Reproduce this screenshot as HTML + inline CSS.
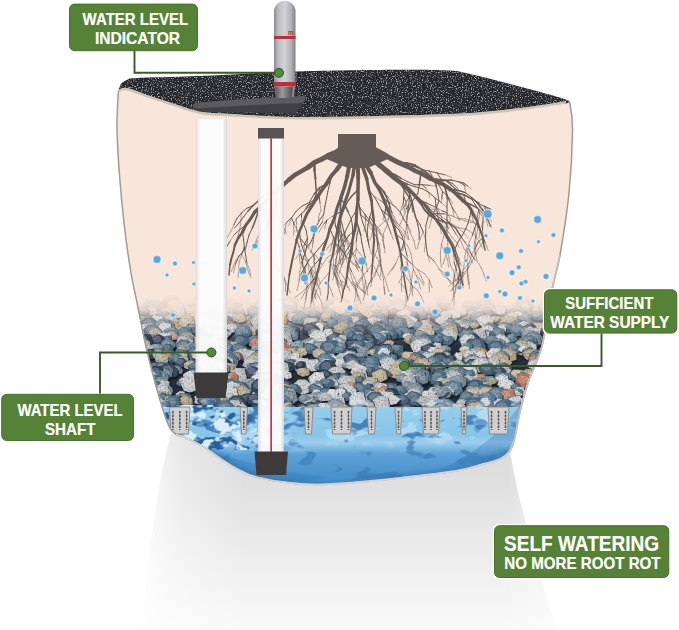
<!DOCTYPE html>
<html><head><meta charset="utf-8"><style>
html,body{margin:0;padding:0;background:#fff;}
body{width:679px;height:630px;overflow:hidden;position:relative;}
svg{position:absolute;left:0;top:0;display:block;}
text{font-family:"Liberation Sans",sans-serif;font-weight:bold;}
</style></head><body>
<svg width="679" height="630" viewBox="0 0 679 630"><defs>
<linearGradient id="shadow" x1="0" y1="0" x2="0" y2="1">
  <stop offset="0" stop-color="#d8d8d8"/>
  <stop offset="0.35" stop-color="#e3e3e3"/>
  <stop offset="1" stop-color="#fafafa"/>
</linearGradient>
<linearGradient id="shadowL" x1="0" y1="0" x2="1" y2="0">
  <stop offset="0" stop-color="#ffffff" stop-opacity="0.85"/>
  <stop offset="0.1" stop-color="#ffffff" stop-opacity="0.35"/>
  <stop offset="0.25" stop-color="#ffffff" stop-opacity="0"/>
  <stop offset="0.88" stop-color="#ffffff" stop-opacity="0"/>
  <stop offset="1" stop-color="#ffffff" stop-opacity="0.5"/>
</linearGradient>
<linearGradient id="water" x1="0" y1="0" x2="0" y2="1">
  <stop offset="0" stop-color="#96cdec"/>
  <stop offset="0.33" stop-color="#88c5e9"/>
  <stop offset="0.42" stop-color="#9ccfee"/>
  <stop offset="0.55" stop-color="#5ea3d6"/>
  <stop offset="0.8" stop-color="#4a92cc"/>
  <stop offset="1" stop-color="#5a9fd3"/>
</linearGradient>
<linearGradient id="gbase" x1="0" y1="0" x2="0" y2="1">
  <stop offset="0" stop-color="#f9e6da"/>
  <stop offset="0.2" stop-color="#8a8f95"/>
  <stop offset="0.4" stop-color="#26303a"/>
  <stop offset="1" stop-color="#26303a"/>
</linearGradient>
<linearGradient id="rootfade" x1="0" y1="0" x2="0" y2="1">
  <stop offset="0" stop-color="#f9e6da" stop-opacity="0"/>
  <stop offset="0.6" stop-color="#f3e4da" stop-opacity="0.5"/>
  <stop offset="1" stop-color="#f0e4dc" stop-opacity="0"/>
</linearGradient>
<linearGradient id="gravfade" x1="0" y1="0" x2="0" y2="1">
  <stop offset="0" stop-color="#f9e6da" stop-opacity="1"/>
  <stop offset="0.25" stop-color="#f9e6da" stop-opacity="0.85"/>
  <stop offset="0.6" stop-color="#f9e6da" stop-opacity="0.35"/>
  <stop offset="1" stop-color="#f9e6da" stop-opacity="0"/>
</linearGradient>
<linearGradient id="tube" x1="0" y1="0" x2="1" y2="0">
  <stop offset="0" stop-color="#808087"/>
  <stop offset="0.3" stop-color="#cfcfd4"/>
  <stop offset="0.6" stop-color="#b0b0b7"/>
  <stop offset="1" stop-color="#727279"/>
</linearGradient>
<linearGradient id="shaft" x1="0" y1="0" x2="1" y2="0">
  <stop offset="0" stop-color="#e0dcda"/>
  <stop offset="0.14" stop-color="#fcfcfc"/>
  <stop offset="0.86" stop-color="#fcfcfc"/>
  <stop offset="1" stop-color="#dad6d4"/>
</linearGradient>
<clipPath id="potclip"><path d="M118.5,90.0 C118.2,96.3 116.8,113.8 117.0,128.0 C117.2,142.2 118.3,159.2 119.5,175.0 C120.7,190.8 122.2,207.1 124.0,223.0 C125.8,238.9 128.3,256.8 130.6,270.5 C132.8,284.2 135.2,293.4 137.5,305.0 C139.8,316.6 141.9,328.3 144.5,340.0 C147.1,351.7 150.4,365.0 153.0,375.0 C155.6,385.0 158.0,393.2 160.0,400.0 C162.0,406.8 163.3,411.3 165.0,416.0 C166.7,420.7 168.2,424.9 170.0,428.0 C171.8,431.1 173.3,432.8 176.0,434.5 C178.7,436.2 181.5,436.0 186.0,438.0 C190.5,440.0 197.2,443.0 203.0,446.5 C208.8,450.0 215.2,455.2 221.0,459.0 C226.8,462.8 232.2,466.5 238.0,469.5 C243.8,472.5 247.3,474.8 256.0,477.0 C264.7,479.2 279.0,481.8 290.0,483.0 C301.0,484.2 310.3,484.7 322.0,484.5 C333.7,484.3 347.0,483.1 360.0,482.0 C373.0,480.9 384.0,479.8 400.0,478.0 C416.0,476.2 443.0,473.1 456.0,471.0 C469.0,468.9 470.7,467.5 478.0,465.5 C485.3,463.5 494.8,461.2 500.0,459.0 C505.2,456.8 506.7,455.0 509.0,452.0 C511.3,449.0 512.0,448.5 514.0,441.0 C516.0,433.5 518.5,417.2 521.0,407.0 C523.5,396.8 525.5,390.2 529.0,380.0 C532.5,369.8 538.2,361.0 542.0,346.0 C545.8,331.0 549.0,305.2 552.0,290.0 C555.0,274.8 557.2,271.2 560.0,255.0 C562.8,238.8 566.9,213.7 569.0,193.0 C571.1,172.3 572.3,145.8 572.5,131.0 C572.7,116.2 571.1,109.0 570.0,104.0 C568.9,99.0 566.7,101.5 566.0,101.0 L566.0,101.0 C558.3,102.2 536.0,106.0 520.0,108.0 C504.0,110.0 490.0,111.8 470.0,113.0 C450.0,114.2 428.3,114.8 400.0,115.5 C371.7,116.2 328.3,117.2 300.0,117.0 C271.7,116.8 246.7,114.9 230.0,114.0 C213.3,113.1 209.0,113.1 200.0,111.5 C191.0,109.9 184.3,107.0 176.0,104.4 C167.7,101.8 158.2,98.7 150.0,96.0 C141.8,93.3 132.2,89.0 127.0,88.0 C121.8,87.0 119.9,89.7 118.5,90.0 Z"/></clipPath><g id="s0"><polygon points="-4.0,3.4 -4.5,1.5 -1.6,-1.2 3.3,-1.4 6.8,0.3 5.3,3.4 0.5,5.6" fill="#101722" opacity=".58"/><polygon points="-4.5,1.6 -4.9,-0.1 -2.2,-2.6 2.3,-2.7 5.6,-1.2 4.2,1.7 -0.3,3.7"/><polygon points="-3.9,-0.5 -4.1,-1.5 -2.5,-2.8 0.2,-2.9 2.1,-2.1 1.3,-0.5 -1.4,0.6" fill="#fff" opacity=".22"/></g><g id="s1"><polygon points="-3.4,5.2 -5.4,1.1 -4.1,-1.5 -0.4,-4.0 4.5,-3.2 5.6,0.3 4.8,4.7 1.2,6.0" fill="#101722" opacity=".58"/><polygon points="-3.9,3.3 -5.7,-0.5 -4.5,-2.8 -1.1,-5.1 3.4,-4.4 4.4,-1.1 3.7,2.8 0.4,4.0"/><polygon points="-3.5,0.4 -4.6,-1.7 -3.9,-2.9 -1.9,-4.2 0.8,-3.8 1.5,-2.0 1.0,0.1 -1.0,0.8" fill="#fff" opacity=".22"/></g><g id="s2"><polygon points="-1.3,-3.7 4.7,-2.6 6.0,0.6 4.5,6.3 -1.9,6.1 -5.1,2.7" fill="#101722" opacity=".58"/><polygon points="-1.9,-4.8 3.6,-3.8 4.8,-0.9 3.4,4.3 -2.5,4.1 -5.4,1.0"/><polygon points="-2.4,-4.1 0.9,-3.5 1.7,-1.9 0.8,1.0 -2.7,0.8 -4.5,-0.9" fill="#fff" opacity=".22"/></g><g id="s3"><polygon points="-4.8,0.1 -1.9,-3.8 3.4,-4.0 7.6,-0.4 6.0,4.3 0.7,6.8 -2.7,5.3 -6.6,2.0" fill="#101722" opacity=".58"/><polygon points="-5.2,-1.4 -2.5,-4.9 2.4,-5.1 6.3,-1.8 4.8,2.5 -0.0,4.7 -3.2,3.3 -6.9,0.3"/><polygon points="-4.3,-2.2 -2.7,-4.1 0.2,-4.2 2.6,-2.4 1.7,-0.0 -1.2,1.2 -3.1,0.4 -5.3,-1.2" fill="#fff" opacity=".22"/></g><g id="s4"><polygon points="4.0,-3.3 6.6,2.4 5.0,5.1 -2.3,6.8 -5.7,2.1 -2.7,-2.5" fill="#101722" opacity=".58"/><polygon points="3.0,-4.4 5.3,0.7 3.9,3.2 -2.8,4.7 -6.0,0.4 -3.2,-3.8"/><polygon points="0.6,-3.8 2.0,-1.0 1.1,0.3 -2.9,1.2 -4.8,-1.2 -3.1,-3.5" fill="#fff" opacity=".22"/></g><g id="s5"><polygon points="1.7,5.7 -5.6,4.4 -6.3,1.2 -1.9,-2.7 3.8,-2.6 6.4,-0.1 6.0,4.2" fill="#101722" opacity=".58"/><polygon points="0.8,3.7 -5.9,2.6 -6.6,-0.4 -2.5,-4.0 2.8,-3.8 5.2,-1.5 4.8,2.4"/><polygon points="-0.7,0.6 -4.8,0.0 -5.1,-1.6 -2.7,-3.6 0.5,-3.5 1.9,-2.2 1.7,-0.1" fill="#fff" opacity=".22"/></g><g id="s6"><polygon points="2.0,6.9 -5.2,4.9 -6.6,-0.9 -0.7,-4.7 7.5,-0.8 8.2,4.7" fill="#101722" opacity=".58"/><polygon points="1.1,4.8 -5.5,3.0 -6.8,-2.3 -1.4,-5.7 6.2,-2.2 6.9,2.8"/><polygon points="-0.5,1.2 -4.5,0.2 -5.3,-2.6 -2.0,-4.5 2.5,-2.6 2.9,0.2" fill="#fff" opacity=".22"/></g><g id="s7"><polygon points="7.7,-1.5 7.4,3.7 6.0,5.9 -0.0,7.1 -6.3,4.2 -6.7,0.9 -0.9,-2.8 3.5,-3.9" fill="#101722" opacity=".58"/><polygon points="6.4,-2.8 6.2,1.9 4.9,3.9 -0.8,5.0 -6.6,2.3 -6.9,-0.7 -1.6,-4.0 2.5,-5.0"/><polygon points="2.6,-2.9 2.5,-0.4 1.7,0.7 -1.7,1.4 -5.2,-0.1 -5.4,-1.8 -2.2,-3.6 0.3,-4.1" fill="#fff" opacity=".22"/></g><g id="s8"><polygon points="8.3,4.0 6.0,5.8 0.3,6.8 -5.1,4.1 -7.0,-0.6 -2.6,-2.5 3.6,-3.1 7.2,-0.2" fill="#101722" opacity=".58"/><polygon points="7.0,2.2 4.8,3.8 -0.5,4.7 -5.5,2.3 -7.3,-2.0 -3.2,-3.7 2.6,-4.3 6.0,-1.7"/><polygon points="3.0,-0.2 1.7,0.7 -1.5,1.2 -4.5,-0.2 -5.6,-2.5 -3.1,-3.4 0.4,-3.8 2.4,-2.3" fill="#fff" opacity=".22"/></g><g id="s9"><polygon points="8.4,1.5 7.4,5.4 -3.0,6.3 -6.7,4.6 -6.8,-0.2 -0.1,-3.8 4.4,-2.6" fill="#101722" opacity=".58"/><polygon points="7.0,-0.1 6.2,3.5 -3.5,4.2 -6.9,2.7 -7.1,-1.6 -0.8,-4.9 3.4,-3.8"/><polygon points="3.0,-1.5 2.5,0.5 -3.3,0.9 -5.4,0.1 -5.4,-2.3 -1.7,-4.1 0.8,-3.5" fill="#fff" opacity=".22"/></g><g id="s10"><polygon points="3.3,7.0 -3.1,6.3 -7.4,5.1 -6.8,-0.9 -4.1,-3.4 5.2,-2.6 7.9,-1.6 7.3,4.0" fill="#101722" opacity=".58"/><polygon points="2.3,4.9 -3.6,4.3 -7.6,3.2 -7.1,-2.3 -4.5,-4.6 4.1,-3.9 6.5,-2.9 6.0,2.2"/><polygon points="0.2,1.3 -3.4,1.0 -5.8,0.4 -5.4,-2.7 -3.9,-3.9 1.3,-3.5 2.7,-3.0 2.4,-0.2" fill="#fff" opacity=".22"/></g><g id="s11"><polygon points="-8.4,-0.5 1.7,-5.1 7.0,-2.4 9.0,5.7 1.8,9.7 -6.9,6.4" fill="#101722" opacity=".58"/><polygon points="-8.5,-1.9 0.8,-6.1 5.7,-3.6 7.6,3.8 1.0,7.3 -7.1,4.3"/><polygon points="-6.3,-2.5 -0.7,-4.8 2.2,-3.4 3.4,0.7 -0.6,2.6 -5.5,1.0" fill="#fff" opacity=".22"/></g><g id="s12"><polygon points="6.2,6.1 -2.4,7.7 -8.5,4.9 -6.0,-2.1 -2.2,-5.4 5.5,-3.5 11.1,1.2" fill="#101722" opacity=".58"/><polygon points="5.0,4.1 -3.0,5.6 -8.6,3.0 -6.3,-3.4 -2.7,-6.3 4.3,-4.6 9.5,-0.4"/><polygon points="1.8,0.8 -3.0,1.7 -6.3,0.3 -5.0,-3.3 -2.8,-4.9 1.4,-3.9 4.5,-1.6" fill="#fff" opacity=".22"/></g><g id="s13"><polygon points="7.6,-5.5 10.5,5.2 3.2,10.8 -7.3,7.8 -7.5,-0.5 -1.6,-6.3" fill="#101722" opacity=".58"/><polygon points="6.3,-6.5 9.0,3.2 2.2,8.3 -7.5,5.6 -7.7,-1.9 -2.2,-7.2"/><polygon points="2.6,-5.0 4.2,0.4 0.1,3.2 -5.7,1.7 -5.8,-2.5 -2.5,-5.4" fill="#fff" opacity=".22"/></g><g id="s14"><polygon points="8.5,7.4 -1.0,8.7 -5.4,5.6 -8.9,-0.6 -4.1,-3.9 4.6,-5.1 10.2,0.7" fill="#101722" opacity=".58"/><polygon points="7.1,5.3 -1.7,6.5 -5.8,3.6 -8.9,-2.0 -4.5,-5.0 3.5,-6.1 8.7,-0.8"/><polygon points="3.1,1.5 -2.2,2.2 -4.7,0.6 -6.6,-2.5 -3.9,-4.2 0.9,-4.7 4.0,-1.8" fill="#fff" opacity=".22"/></g><g id="s15"><polygon points="0.8,9.9 -6.2,7.5 -9.7,-1.4 -4.1,-6.6 3.7,-6.5 9.9,-0.8 9.8,6.8" fill="#101722" opacity=".58"/><polygon points="0.0,7.5 -6.5,5.4 -9.8,-2.7 -4.5,-7.5 2.7,-7.4 8.5,-2.2 8.4,4.7"/><polygon points="-1.2,2.7 -5.1,1.6 -7.1,-2.9 -3.9,-5.5 0.4,-5.5 3.9,-2.6 3.8,1.2" fill="#fff" opacity=".22"/></g><filter id="gtex" color-interpolation-filters="sRGB" filterUnits="userSpaceOnUse" x="100" y="306" width="490" height="112"><feTurbulence type="fractalNoise" baseFrequency="0.6" numOctaves="1" seed="8"/><feColorMatrix type="matrix" values="0 0 0 0 0.1  0 0 0 0 0.12  0 0 0 0 0.15  3 0 0 0 -1.3"/></filter><filter id="marbD" color-interpolation-filters="sRGB" filterUnits="userSpaceOnUse" x="100" y="400" width="480" height="100">
<feTurbulence type="fractalNoise" baseFrequency="0.035 0.06" numOctaves="3" seed="11"/>
<feColorMatrix type="matrix" values="0 0 0 0 0.19  0 0 0 0 0.43  0 0 0 0 0.68  14 0 0 0 -8.6"/>
</filter>
<filter id="marbL" color-interpolation-filters="sRGB" filterUnits="userSpaceOnUse" x="100" y="400" width="480" height="100">
<feTurbulence type="fractalNoise" baseFrequency="0.04 0.07" numOctaves="3" seed="4"/>
<feColorMatrix type="matrix" values="0 0 0 0 0.86  0 0 0 0 0.94  0 0 0 0 0.99  14 0 0 0 -8.0"/>
</filter>
<linearGradient id="wmask" x1="0" y1="0" x2="0" y2="1">
  <stop offset="0" stop-color="#fff"/>
  <stop offset="0.35" stop-color="#fff"/>
  <stop offset="0.55" stop-color="#000"/>
</linearGradient>
<mask id="wm" maskUnits="userSpaceOnUse" x="100" y="400" width="480" height="100"><rect x="100" y="400" width="480" height="100" fill="url(#wmask)"/></mask>
<linearGradient id="water2" x1="0" y1="0" x2="1" y2="0.3">
  <stop offset="0" stop-color="#3f86c2" stop-opacity="0.9"/>
  <stop offset="0.35" stop-color="#3f86c2" stop-opacity="0.2"/>
  <stop offset="1" stop-color="#3f86c2" stop-opacity="0"/>
</linearGradient>
<filter id="bl3" x="-20%" y="-50%" width="140%" height="200%"><feGaussianBlur stdDeviation="2.5"/></filter><filter id="marbD2" color-interpolation-filters="sRGB" filterUnits="userSpaceOnUse" x="150" y="405" width="150" height="45">
<feTurbulence type="fractalNoise" baseFrequency="0.06 0.08" numOctaves="3" seed="21"/>
<feColorMatrix type="matrix" values="0 0 0 0 0.16  0 0 0 0 0.37  0 0 0 0 0.60  10 0 0 0 -5.0"/>
</filter>
<linearGradient id="lmask" x1="0" y1="0" x2="1" y2="0">
  <stop offset="0" stop-color="#fff"/><stop offset="0.6" stop-color="#fff"/><stop offset="1" stop-color="#000"/>
</linearGradient>
<mask id="lm" maskUnits="userSpaceOnUse" x="150" y="405" width="150" height="45"><rect x="150" y="405" width="150" height="45" fill="url(#lmask)"/></mask><filter id="marbL2" color-interpolation-filters="sRGB" filterUnits="userSpaceOnUse" x="150" y="405" width="150" height="45">
<feTurbulence type="fractalNoise" baseFrequency="0.07 0.09" numOctaves="3" seed="33"/>
<feColorMatrix type="matrix" values="0 0 0 0 0.85  0 0 0 0 0.93  0 0 0 0 0.98  10 0 0 0 -5.3"/>
</filter><clipPath id="rimclip"><path d="M118.5,91.0 C118.9,89.8 119.6,85.8 121.0,84.0 C122.4,82.2 124.3,81.0 127.0,80.0 C129.7,79.0 124.8,78.7 137.0,78.0 C149.2,77.3 173.5,77.1 200.0,76.0 C226.5,74.9 263.3,72.5 296.0,71.5 C328.7,70.5 370.7,70.0 396.0,69.8 C421.3,69.6 436.0,69.9 448.0,70.5 C460.0,71.1 457.3,71.2 468.0,73.5 C478.7,75.8 496.3,80.4 512.0,84.5 C527.7,88.6 552.5,95.2 562.0,98.2 C571.5,101.2 567.8,101.8 569.0,102.5 L566,103.5 L520.0,108.0 C511.7,108.8 490.0,111.8 470.0,113.0 C450.0,114.2 428.3,114.8 400.0,115.5 C371.7,116.2 328.3,117.2 300.0,117.0 C271.7,116.8 246.7,114.9 230.0,114.0 C213.3,113.1 209.0,113.1 200.0,111.5 C191.0,109.9 184.3,107.0 176.0,104.4 C167.7,101.8 158.2,98.7 150.0,96.0 C141.8,93.3 132.2,89.0 127.0,88.0 C121.8,87.0 119.9,89.7 118.5,90.0 Z"/></clipPath><filter id="speck" color-interpolation-filters="sRGB" x="100" y="55" width="490" height="75" filterUnits="userSpaceOnUse">
<feTurbulence type="fractalNoise" baseFrequency="0.8" numOctaves="2" seed="3" result="n"/>
<feColorMatrix in="n" type="matrix" values="0 0 0 0 0.66  0 0 0 0 0.66  0 0 0 0 0.69  4.4 0 0 0 -2.3"/>
</filter>
<linearGradient id="tube2" x1="0" y1="0" x2="1" y2="0">
  <stop offset="0" stop-color="#8a8a91"/>
  <stop offset="0.2" stop-color="#bdbdc2"/>
  <stop offset="0.5" stop-color="#d2d2d6"/>
  <stop offset="0.8" stop-color="#b0b0b6"/>
  <stop offset="1" stop-color="#808087"/>
</linearGradient>
<linearGradient id="tube3" x1="0" y1="0" x2="1" y2="0">
  <stop offset="0" stop-color="#55555b"/>
  <stop offset="0.4" stop-color="#9a9aa0"/>
  <stop offset="1" stop-color="#4a4a50"/>
</linearGradient></defs><path d="M171,434 L186,438 L256,477 L322,484.5 L478,465.5 L509,443 C516,500 540,570 556,630 L143,630 C148,560 158,480 171,434 Z" fill="url(#shadow)"/><path d="M171,434 L186,438 L256,477 L322,484.5 L478,465.5 L509,443 C516,500 540,570 556,630 L143,630 C148,560 158,480 171,434 Z" fill="url(#shadowL)"/><path d="M118.5,90.0 C118.2,96.3 116.8,113.8 117.0,128.0 C117.2,142.2 118.3,159.2 119.5,175.0 C120.7,190.8 122.2,207.1 124.0,223.0 C125.8,238.9 128.3,256.8 130.6,270.5 C132.8,284.2 135.2,293.4 137.5,305.0 C139.8,316.6 141.9,328.3 144.5,340.0 C147.1,351.7 150.4,365.0 153.0,375.0 C155.6,385.0 158.0,393.2 160.0,400.0 C162.0,406.8 163.3,411.3 165.0,416.0 C166.7,420.7 168.2,424.9 170.0,428.0 C171.8,431.1 173.3,432.8 176.0,434.5 C178.7,436.2 181.5,436.0 186.0,438.0 C190.5,440.0 197.2,443.0 203.0,446.5 C208.8,450.0 215.2,455.2 221.0,459.0 C226.8,462.8 232.2,466.5 238.0,469.5 C243.8,472.5 247.3,474.8 256.0,477.0 C264.7,479.2 279.0,481.8 290.0,483.0 C301.0,484.2 310.3,484.7 322.0,484.5 C333.7,484.3 347.0,483.1 360.0,482.0 C373.0,480.9 384.0,479.8 400.0,478.0 C416.0,476.2 443.0,473.1 456.0,471.0 C469.0,468.9 470.7,467.5 478.0,465.5 C485.3,463.5 494.8,461.2 500.0,459.0 C505.2,456.8 506.7,455.0 509.0,452.0 C511.3,449.0 512.0,448.5 514.0,441.0 C516.0,433.5 518.5,417.2 521.0,407.0 C523.5,396.8 525.5,390.2 529.0,380.0 C532.5,369.8 538.2,361.0 542.0,346.0 C545.8,331.0 549.0,305.2 552.0,290.0 C555.0,274.8 557.2,271.2 560.0,255.0 C562.8,238.8 566.9,213.7 569.0,193.0 C571.1,172.3 572.3,145.8 572.5,131.0 C572.7,116.2 571.1,109.0 570.0,104.0 C568.9,99.0 566.7,101.5 566.0,101.0 L566.0,101.0 C558.3,102.2 536.0,106.0 520.0,108.0 C504.0,110.0 490.0,111.8 470.0,113.0 C450.0,114.2 428.3,114.8 400.0,115.5 C371.7,116.2 328.3,117.2 300.0,117.0 C271.7,116.8 246.7,114.9 230.0,114.0 C213.3,113.1 209.0,113.1 200.0,111.5 C191.0,109.9 184.3,107.0 176.0,104.4 C167.7,101.8 158.2,98.7 150.0,96.0 C141.8,93.3 132.2,89.0 127.0,88.0 C121.8,87.0 119.9,89.7 118.5,90.0 Z" fill="#f9e6da"/><g clip-path="url(#potclip)"><path d="M338,134 L376,134 L376,147 C378,152 383,155 390,158 L368,168 L348,168 L324,158 C331,155 336,152 338,147 Z" fill="#655c57"/><rect x="100" y="300" width="480" height="115" fill="url(#gbase)"/><use href="#s7" x="286" y="300" fill="#47657b"/><use href="#s12" x="332" y="300" fill="#516f85"/><use href="#s11" x="282" y="300" fill="#778b95"/><use href="#s10" x="262" y="300" fill="#cbcdcf"/><use href="#s2" x="209" y="300" fill="#67859b"/><use href="#s11" x="366" y="300" fill="#c0c2c4"/><use href="#s6" x="205" y="300" fill="#b4b6b8"/><use href="#s1" x="191" y="301" fill="#c1c3c5"/><use href="#s5" x="396" y="301" fill="#648298"/><use href="#s4" x="342" y="301" fill="#5b798f"/><use href="#s6" x="442" y="301" fill="#8498a2"/><use href="#s5" x="214" y="301" fill="#dcdee0"/><use href="#s6" x="113" y="301" fill="#bb7d5f"/><use href="#s1" x="576" y="301" fill="#66849a"/><use href="#s10" x="288" y="301" fill="#617f95"/><use href="#s5" x="575" y="301" fill="#c2b496"/><use href="#s11" x="267" y="301" fill="#ccced0"/><use href="#s6" x="295" y="301" fill="#3d4d61"/><use href="#s14" x="383" y="301" fill="#beb092"/><use href="#s8" x="572" y="302" fill="#3d4d61"/><use href="#s15" x="254" y="302" fill="#c6b89a"/><use href="#s4" x="221" y="302" fill="#748892"/><use href="#s12" x="395" y="302" fill="#b9bbbd"/><use href="#s13" x="171" y="302" fill="#b7b9bb"/><use href="#s1" x="281" y="302" fill="#728690"/><use href="#s4" x="360" y="302" fill="#7f939d"/><use href="#s13" x="170" y="302" fill="#3c4c60"/><use href="#s13" x="213" y="303" fill="#617f95"/><use href="#s12" x="228" y="303" fill="#baac8e"/><use href="#s1" x="578" y="303" fill="#344458"/><use href="#s4" x="228" y="303" fill="#748892"/><use href="#s6" x="277" y="303" fill="#37475b"/><use href="#s11" x="578" y="303" fill="#b1a385"/><use href="#s5" x="238" y="303" fill="#bbad8f"/><use href="#s13" x="524" y="303" fill="#778b95"/><use href="#s3" x="149" y="304" fill="#66849a"/><use href="#s13" x="483" y="304" fill="#638197"/><use href="#s9" x="279" y="304" fill="#baac8e"/><use href="#s11" x="398" y="304" fill="#67859b"/><use href="#s13" x="305" y="304" fill="#c4b698"/><use href="#s3" x="448" y="304" fill="#c6c8ca"/><use href="#s5" x="306" y="304" fill="#caccce"/><use href="#s10" x="175" y="304" fill="#c5b799"/><use href="#s7" x="261" y="304" fill="#527086"/><use href="#s4" x="345" y="304" fill="#3a4a5e"/><use href="#s8" x="340" y="304" fill="#c7b99b"/><use href="#s15" x="287" y="304" fill="#48667c"/><use href="#s14" x="202" y="304" fill="#dadcde"/><use href="#s15" x="565" y="305" fill="#bbad8f"/><use href="#s3" x="468" y="305" fill="#798d97"/><use href="#s12" x="270" y="305" fill="#b2a486"/><use href="#s9" x="328" y="305" fill="#37475b"/><use href="#s8" x="506" y="305" fill="#d4d6d8"/><use href="#s2" x="476" y="306" fill="#4c6a80"/><use href="#s7" x="343" y="306" fill="#c0b294"/><use href="#s5" x="521" y="306" fill="#7c909a"/><use href="#s4" x="549" y="306" fill="#2c3c50"/><use href="#s9" x="152" y="306" fill="#5b798f"/><use href="#s10" x="238" y="307" fill="#c3b597"/><use href="#s4" x="261" y="307" fill="#cfd1d3"/><use href="#s8" x="349" y="307" fill="#bfb193"/><use href="#s13" x="523" y="307" fill="#557389"/><use href="#s8" x="577" y="307" fill="#c6c8ca"/><use href="#s6" x="237" y="307" fill="#48667c"/><use href="#s10" x="445" y="307" fill="#304054"/><use href="#s15" x="156" y="307" fill="#4d6b81"/><use href="#s6" x="548" y="307" fill="#869aa4"/><use href="#s9" x="574" y="308" fill="#d4d6d8"/><use href="#s7" x="402" y="308" fill="#47657b"/><use href="#s1" x="128" y="308" fill="#4c6a80"/><use href="#s15" x="420" y="308" fill="#d6d8da"/><use href="#s15" x="287" y="308" fill="#d4d6d8"/><use href="#s1" x="575" y="308" fill="#cdcfd1"/><use href="#s1" x="525" y="308" fill="#d4d6d8"/><use href="#s11" x="337" y="308" fill="#d9dbdd"/><use href="#s12" x="109" y="308" fill="#4f6d83"/><use href="#s6" x="544" y="308" fill="#6f838d"/><use href="#s5" x="139" y="308" fill="#bcbec0"/><use href="#s0" x="278" y="309" fill="#7e929c"/><use href="#s7" x="207" y="309" fill="#bec0c2"/><use href="#s3" x="500" y="309" fill="#c3b597"/><use href="#s13" x="279" y="309" fill="#8397a1"/><use href="#s13" x="176" y="309" fill="#b4b6b8"/><use href="#s1" x="320" y="309" fill="#7d919b"/><use href="#s2" x="418" y="309" fill="#628096"/><use href="#s2" x="518" y="309" fill="#5d7b91"/><use href="#s7" x="341" y="309" fill="#d1d3d5"/><use href="#s5" x="213" y="309" fill="#617f95"/><use href="#s2" x="565" y="310" fill="#d2d4d6"/><use href="#s9" x="561" y="310" fill="#c2b496"/><use href="#s12" x="226" y="310" fill="#b6b8ba"/><use href="#s7" x="243" y="310" fill="#d4d6d8"/><use href="#s3" x="253" y="310" fill="#47657b"/><use href="#s0" x="131" y="310" fill="#788c96"/><use href="#s14" x="228" y="310" fill="#c3b597"/><use href="#s13" x="487" y="310" fill="#778b95"/><use href="#s6" x="454" y="310" fill="#c1b395"/><use href="#s7" x="569" y="310" fill="#446278"/><use href="#s4" x="152" y="311" fill="#babcbe"/><use href="#s2" x="109" y="311" fill="#527086"/><use href="#s0" x="114" y="311" fill="#5e7c92"/><use href="#s3" x="121" y="311" fill="#d4d6d8"/><use href="#s5" x="398" y="311" fill="#d1d3d5"/><use href="#s14" x="417" y="311" fill="#bbbdbf"/><use href="#s2" x="485" y="311" fill="#869aa4"/><use href="#s11" x="178" y="311" fill="#caccce"/><use href="#s5" x="144" y="311" fill="#49677d"/><use href="#s6" x="460" y="311" fill="#d1d3d5"/><use href="#s5" x="500" y="311" fill="#d2d4d6"/><use href="#s7" x="396" y="311" fill="#648298"/><use href="#s15" x="400" y="312" fill="#c7c9cb"/><use href="#s12" x="393" y="312" fill="#ced0d2"/><use href="#s13" x="289" y="312" fill="#628096"/><use href="#s15" x="363" y="312" fill="#bbad8f"/><use href="#s11" x="562" y="312" fill="#324256"/><use href="#s9" x="268" y="312" fill="#66849a"/><use href="#s2" x="231" y="312" fill="#748892"/><use href="#s4" x="385" y="312" fill="#5a788e"/><use href="#s4" x="552" y="312" fill="#70848e"/><use href="#s10" x="352" y="312" fill="#557389"/><use href="#s6" x="487" y="312" fill="#57758b"/><use href="#s7" x="523" y="312" fill="#7c909a"/><use href="#s3" x="254" y="312" fill="#2f3f53"/><use href="#s2" x="165" y="312" fill="#b0a284"/><use href="#s9" x="417" y="312" fill="#3a4a5e"/><use href="#s5" x="208" y="312" fill="#dbdddf"/><use href="#s5" x="281" y="312" fill="#81959f"/><use href="#s4" x="437" y="312" fill="#b9bbbd"/><use href="#s1" x="330" y="313" fill="#5e7c92"/><use href="#s0" x="264" y="313" fill="#617f95"/><use href="#s2" x="435" y="313" fill="#344458"/><use href="#s8" x="268" y="313" fill="#bcae90"/><use href="#s4" x="491" y="313" fill="#d5d7d9"/><use href="#s0" x="546" y="313" fill="#4e6c82"/><use href="#s1" x="240" y="313" fill="#5b798f"/><use href="#s6" x="395" y="313" fill="#304054"/><use href="#s5" x="522" y="313" fill="#47657b"/><use href="#s0" x="575" y="313" fill="#547288"/><use href="#s11" x="168" y="313" fill="#b6a88a"/><use href="#s15" x="418" y="313" fill="#648298"/><use href="#s3" x="451" y="313" fill="#607e94"/><use href="#s2" x="573" y="313" fill="#d4d6d8"/><use href="#s7" x="209" y="314" fill="#48667c"/><use href="#s5" x="484" y="314" fill="#d5d7d9"/><use href="#s3" x="510" y="314" fill="#58768c"/><use href="#s10" x="572" y="314" fill="#506e84"/><use href="#s2" x="282" y="314" fill="#baac8e"/><use href="#s11" x="514" y="314" fill="#3e4e62"/><use href="#s11" x="404" y="314" fill="#56748a"/><use href="#s12" x="483" y="314" fill="#b7a98b"/><use href="#s8" x="454" y="314" fill="#d9dbdd"/><use href="#s0" x="531" y="314" fill="#57758b"/><use href="#s8" x="305" y="314" fill="#66849a"/><use href="#s0" x="129" y="314" fill="#baac8e"/><use href="#s2" x="256" y="314" fill="#d2d4d6"/><use href="#s8" x="256" y="314" fill="#728690"/><use href="#s8" x="124" y="314" fill="#8498a2"/><use href="#s7" x="129" y="314" fill="#bec0c2"/><use href="#s11" x="405" y="315" fill="#dbdddf"/><use href="#s8" x="299" y="315" fill="#2c3c50"/><use href="#s3" x="314" y="315" fill="#446278"/><use href="#s15" x="268" y="315" fill="#bfb193"/><use href="#s14" x="479" y="315" fill="#b9ab8d"/><use href="#s4" x="438" y="315" fill="#638197"/><use href="#s12" x="379" y="315" fill="#4b697f"/><use href="#s1" x="384" y="315" fill="#bb7b57"/><use href="#s14" x="488" y="315" fill="#324256"/><use href="#s5" x="446" y="315" fill="#c8cacc"/><use href="#s12" x="110" y="315" fill="#c5b799"/><use href="#s6" x="369" y="316" fill="#c0b294"/><use href="#s5" x="169" y="316" fill="#7d919b"/><use href="#s2" x="414" y="316" fill="#344458"/><use href="#s5" x="127" y="316" fill="#d8dadc"/><use href="#s14" x="353" y="316" fill="#b0a284"/><use href="#s6" x="537" y="316" fill="#5f7d93"/><use href="#s2" x="157" y="316" fill="#b7b9bb"/><use href="#s4" x="565" y="316" fill="#617f95"/><use href="#s4" x="331" y="316" fill="#5e7c92"/><use href="#s11" x="348" y="317" fill="#5f7d93"/><use href="#s11" x="517" y="317" fill="#dee0e2"/><use href="#s2" x="326" y="317" fill="#b3a587"/><use href="#s13" x="258" y="317" fill="#547288"/><use href="#s6" x="380" y="317" fill="#537187"/><use href="#s2" x="207" y="317" fill="#36465a"/><use href="#s2" x="223" y="317" fill="#b1a385"/><use href="#s7" x="511" y="317" fill="#c9cbcd"/><use href="#s14" x="164" y="317" fill="#58768c"/><use href="#s2" x="292" y="317" fill="#bcbec0"/><use href="#s2" x="350" y="317" fill="#628096"/><use href="#s3" x="265" y="317" fill="#46647a"/><use href="#s8" x="230" y="317" fill="#bcbec0"/><use href="#s1" x="115" y="318" fill="#bd7e5a"/><use href="#s8" x="239" y="318" fill="#bcae90"/><use href="#s13" x="477" y="318" fill="#57758b"/><use href="#s3" x="436" y="318" fill="#405064"/><use href="#s3" x="357" y="318" fill="#648298"/><use href="#s11" x="302" y="318" fill="#5b798f"/><use href="#s3" x="189" y="318" fill="#b2a486"/><use href="#s12" x="264" y="318" fill="#c5c7c9"/><use href="#s14" x="195" y="318" fill="#bcbec0"/><use href="#s5" x="133" y="318" fill="#557389"/><use href="#s0" x="494" y="319" fill="#c1b395"/><use href="#s11" x="525" y="319" fill="#728690"/><use href="#s10" x="299" y="319" fill="#66849a"/><use href="#s15" x="129" y="319" fill="#778b95"/><use href="#s6" x="225" y="319" fill="#537187"/><use href="#s8" x="171" y="319" fill="#b4b6b8"/><use href="#s4" x="573" y="320" fill="#3e4e62"/><use href="#s10" x="361" y="320" fill="#3c4c60"/><use href="#s3" x="374" y="320" fill="#728690"/><use href="#s1" x="399" y="320" fill="#c9bb9d"/><use href="#s7" x="442" y="320" fill="#d3d5d7"/><use href="#s3" x="407" y="320" fill="#b9ab8d"/><use href="#s15" x="358" y="320" fill="#2e3e52"/><use href="#s7" x="569" y="320" fill="#5b798f"/><use href="#s3" x="339" y="320" fill="#46647a"/><use href="#s9" x="206" y="321" fill="#bdbfc1"/><use href="#s12" x="509" y="321" fill="#b7a98b"/><use href="#s12" x="350" y="321" fill="#c1c3c5"/><use href="#s1" x="283" y="321" fill="#cd8755"/><use href="#s6" x="411" y="321" fill="#dbdddf"/><use href="#s8" x="196" y="321" fill="#d3d5d7"/><use href="#s6" x="381" y="321" fill="#658399"/><use href="#s4" x="355" y="321" fill="#cdcfd1"/><use href="#s1" x="486" y="321" fill="#648298"/><use href="#s14" x="485" y="321" fill="#d4d6d8"/><use href="#s13" x="400" y="322" fill="#c97351"/><use href="#s13" x="344" y="322" fill="#547288"/><use href="#s6" x="274" y="322" fill="#5a788e"/><use href="#s14" x="404" y="322" fill="#c6c8ca"/><use href="#s9" x="560" y="322" fill="#8599a3"/><use href="#s10" x="374" y="322" fill="#d4d6d8"/><use href="#s12" x="128" y="322" fill="#56748a"/><use href="#s10" x="311" y="322" fill="#bbbdbf"/><use href="#s13" x="186" y="322" fill="#bfb193"/><use href="#s14" x="400" y="323" fill="#cbcdcf"/><use href="#s12" x="151" y="323" fill="#39495d"/><use href="#s11" x="148" y="323" fill="#869aa4"/><use href="#s4" x="332" y="323" fill="#5b798f"/><use href="#s10" x="453" y="323" fill="#506e84"/><use href="#s15" x="260" y="323" fill="#bfc1c3"/><use href="#s13" x="156" y="323" fill="#dddfe1"/><use href="#s0" x="530" y="323" fill="#58768c"/><use href="#s6" x="408" y="323" fill="#b5b7b9"/><use href="#s8" x="580" y="323" fill="#354559"/><use href="#s4" x="522" y="324" fill="#5d7b91"/><use href="#s7" x="517" y="324" fill="#456379"/><use href="#s13" x="398" y="324" fill="#56748a"/><use href="#s4" x="425" y="324" fill="#c7b99b"/><use href="#s2" x="375" y="324" fill="#c4b698"/><use href="#s5" x="456" y="324" fill="#334357"/><use href="#s2" x="580" y="324" fill="#537187"/><use href="#s2" x="277" y="324" fill="#67859b"/><use href="#s1" x="465" y="324" fill="#4f6d83"/><use href="#s2" x="377" y="325" fill="#879ba5"/><use href="#s5" x="166" y="325" fill="#48667c"/><use href="#s12" x="170" y="325" fill="#b2a486"/><use href="#s3" x="458" y="325" fill="#b9ab8d"/><use href="#s9" x="577" y="325" fill="#2c3c50"/><use href="#s1" x="164" y="325" fill="#36465a"/><use href="#s4" x="468" y="325" fill="#67859b"/><use href="#s12" x="214" y="325" fill="#c0c2c4"/><use href="#s3" x="168" y="325" fill="#516f85"/><use href="#s14" x="363" y="325" fill="#46647a"/><use href="#s0" x="474" y="325" fill="#b5a789"/><use href="#s15" x="150" y="325" fill="#46647a"/><use href="#s14" x="122" y="325" fill="#c6b89a"/><use href="#s4" x="572" y="326" fill="#5b798f"/><use href="#s14" x="562" y="326" fill="#c4b698"/><use href="#s1" x="379" y="326" fill="#3b4b5f"/><use href="#s13" x="162" y="326" fill="#638197"/><use href="#s0" x="532" y="326" fill="#5d7b91"/><use href="#s6" x="264" y="326" fill="#57758b"/><use href="#s4" x="231" y="326" fill="#c77a60"/><use href="#s3" x="360" y="326" fill="#516f85"/><use href="#s14" x="547" y="326" fill="#38485c"/><use href="#s2" x="418" y="326" fill="#638197"/><use href="#s0" x="464" y="326" fill="#bbbdbf"/><use href="#s9" x="524" y="326" fill="#cdcfd1"/><use href="#s4" x="455" y="326" fill="#c8ba9c"/><use href="#s4" x="314" y="326" fill="#304054"/><use href="#s8" x="453" y="326" fill="#49677d"/><use href="#s8" x="563" y="326" fill="#c7b99b"/><use href="#s9" x="447" y="326" fill="#869aa4"/><use href="#s9" x="343" y="327" fill="#b2a486"/><use href="#s10" x="492" y="327" fill="#2c3c50"/><use href="#s9" x="489" y="327" fill="#b8babc"/><use href="#s2" x="319" y="327" fill="#dee0e2"/><use href="#s3" x="109" y="327" fill="#bb8362"/><use href="#s10" x="539" y="327" fill="#c8ba9c"/><use href="#s5" x="427" y="327" fill="#bdbfc1"/><use href="#s4" x="353" y="327" fill="#5e7c92"/><use href="#s5" x="529" y="327" fill="#c1b395"/><use href="#s0" x="113" y="327" fill="#7b8f99"/><use href="#s0" x="313" y="328" fill="#47657b"/><use href="#s3" x="383" y="328" fill="#4f6d83"/><use href="#s10" x="234" y="328" fill="#80949e"/><use href="#s3" x="186" y="328" fill="#b5b7b9"/><use href="#s12" x="506" y="328" fill="#506e84"/><use href="#s11" x="227" y="328" fill="#628096"/><use href="#s5" x="191" y="328" fill="#2d3d51"/><use href="#s0" x="312" y="328" fill="#67859b"/><use href="#s7" x="529" y="328" fill="#2f3f53"/><use href="#s8" x="231" y="328" fill="#caccce"/><use href="#s14" x="148" y="329" fill="#c3b597"/><use href="#s9" x="559" y="329" fill="#5f7d93"/><use href="#s1" x="502" y="329" fill="#ccced0"/><use href="#s13" x="553" y="329" fill="#b9bbbd"/><use href="#s12" x="491" y="329" fill="#4a687e"/><use href="#s8" x="110" y="329" fill="#3e4e62"/><use href="#s12" x="310" y="329" fill="#2c3c50"/><use href="#s7" x="193" y="329" fill="#506e84"/><use href="#s6" x="340" y="329" fill="#b0a284"/><use href="#s11" x="159" y="329" fill="#778b95"/><use href="#s0" x="277" y="329" fill="#71858f"/><use href="#s2" x="556" y="330" fill="#bb765b"/><use href="#s0" x="222" y="330" fill="#7c909a"/><use href="#s10" x="374" y="330" fill="#58768c"/><use href="#s0" x="390" y="330" fill="#49677d"/><use href="#s13" x="164" y="330" fill="#dadcde"/><use href="#s6" x="573" y="330" fill="#5a788e"/><use href="#s14" x="517" y="330" fill="#59778d"/><use href="#s3" x="211" y="330" fill="#7c909a"/><use href="#s5" x="437" y="330" fill="#557389"/><use href="#s11" x="191" y="330" fill="#7d919b"/><use href="#s14" x="141" y="330" fill="#d2d4d6"/><use href="#s9" x="261" y="330" fill="#b4b6b8"/><use href="#s12" x="290" y="330" fill="#46647a"/><use href="#s8" x="182" y="330" fill="#baac8e"/><use href="#s4" x="569" y="330" fill="#d6d8da"/><use href="#s11" x="133" y="331" fill="#7e929c"/><use href="#s4" x="556" y="331" fill="#d5d7d9"/><use href="#s11" x="487" y="331" fill="#d8dadc"/><use href="#s10" x="190" y="331" fill="#638197"/><use href="#s10" x="459" y="331" fill="#39495d"/><use href="#s6" x="251" y="331" fill="#c1b395"/><use href="#s1" x="453" y="331" fill="#617f95"/><use href="#s4" x="525" y="331" fill="#5c7a90"/><use href="#s1" x="295" y="331" fill="#37475b"/><use href="#s7" x="546" y="331" fill="#344458"/><use href="#s10" x="117" y="331" fill="#c3c5c7"/><use href="#s3" x="289" y="331" fill="#6e828c"/><use href="#s10" x="534" y="332" fill="#ced0d2"/><use href="#s13" x="242" y="332" fill="#5a788e"/><use href="#s6" x="531" y="332" fill="#c9cbcd"/><use href="#s5" x="128" y="332" fill="#788c96"/><use href="#s15" x="360" y="332" fill="#36465a"/><use href="#s13" x="283" y="332" fill="#bbbdbf"/><use href="#s15" x="377" y="332" fill="#446278"/><use href="#s15" x="153" y="332" fill="#5d7b91"/><use href="#s5" x="568" y="332" fill="#5a788e"/><use href="#s13" x="450" y="332" fill="#b1a385"/><use href="#s11" x="172" y="332" fill="#628096"/><use href="#s8" x="404" y="332" fill="#728690"/><use href="#s10" x="196" y="332" fill="#36465a"/><use href="#s0" x="485" y="333" fill="#c9cbcd"/><use href="#s9" x="315" y="333" fill="#70848e"/><use href="#s3" x="155" y="333" fill="#baac8e"/><use href="#s1" x="247" y="333" fill="#537187"/><use href="#s6" x="262" y="333" fill="#39495d"/><use href="#s7" x="553" y="333" fill="#607e94"/><use href="#s4" x="328" y="333" fill="#d8dadc"/><use href="#s2" x="225" y="333" fill="#4c6a80"/><use href="#s15" x="426" y="333" fill="#c8ba9c"/><use href="#s14" x="352" y="333" fill="#4d6b81"/><use href="#s6" x="407" y="333" fill="#547288"/><use href="#s6" x="349" y="334" fill="#617f95"/><use href="#s0" x="226" y="334" fill="#c8cacc"/><use href="#s3" x="476" y="334" fill="#638197"/><use href="#s13" x="184" y="334" fill="#4f6d83"/><use href="#s8" x="398" y="334" fill="#47657b"/><use href="#s15" x="288" y="334" fill="#80949e"/><use href="#s10" x="529" y="334" fill="#879ba5"/><use href="#s10" x="386" y="335" fill="#c5c7c9"/><use href="#s7" x="391" y="335" fill="#47657b"/><use href="#s11" x="356" y="335" fill="#3f4f63"/><use href="#s9" x="170" y="335" fill="#49677d"/><use href="#s0" x="358" y="335" fill="#bbbdbf"/><use href="#s14" x="449" y="335" fill="#c4c6c8"/><use href="#s13" x="497" y="335" fill="#5a788e"/><use href="#s7" x="171" y="335" fill="#5f7d93"/><use href="#s12" x="221" y="335" fill="#b7b9bb"/><use href="#s6" x="488" y="335" fill="#516f85"/><use href="#s4" x="264" y="335" fill="#557389"/><use href="#s10" x="483" y="335" fill="#b8babc"/><use href="#s4" x="471" y="336" fill="#c7b99b"/><use href="#s13" x="478" y="336" fill="#bcbec0"/><use href="#s12" x="421" y="336" fill="#8296a0"/><use href="#s9" x="172" y="336" fill="#b4a688"/><use href="#s2" x="294" y="336" fill="#67859b"/><use href="#s0" x="407" y="336" fill="#d0d2d4"/><use href="#s7" x="350" y="336" fill="#456379"/><use href="#s5" x="473" y="337" fill="#d5d7d9"/><use href="#s15" x="468" y="337" fill="#658399"/><use href="#s15" x="117" y="337" fill="#46647a"/><use href="#s2" x="420" y="337" fill="#879ba5"/><use href="#s10" x="164" y="337" fill="#d7d9db"/><use href="#s4" x="115" y="337" fill="#dddfe1"/><use href="#s3" x="269" y="337" fill="#bdaf91"/><use href="#s10" x="384" y="337" fill="#4b697f"/><use href="#s12" x="567" y="337" fill="#5e7c92"/><use href="#s1" x="440" y="338" fill="#527086"/><use href="#s1" x="279" y="338" fill="#d8dadc"/><use href="#s10" x="575" y="338" fill="#baac8e"/><use href="#s11" x="380" y="338" fill="#b4b6b8"/><use href="#s12" x="377" y="338" fill="#628096"/><use href="#s9" x="369" y="338" fill="#344458"/><use href="#s15" x="319" y="338" fill="#dbdddf"/><use href="#s3" x="559" y="338" fill="#527086"/><use href="#s0" x="360" y="338" fill="#bdaf91"/><use href="#s9" x="575" y="338" fill="#49677d"/><use href="#s14" x="116" y="338" fill="#80949e"/><use href="#s7" x="333" y="338" fill="#48667c"/><use href="#s4" x="114" y="338" fill="#c4b698"/><use href="#s4" x="512" y="338" fill="#638197"/><use href="#s10" x="156" y="339" fill="#58768c"/><use href="#s2" x="342" y="339" fill="#c5c7c9"/><use href="#s9" x="501" y="339" fill="#d2d4d6"/><use href="#s0" x="155" y="339" fill="#798d97"/><use href="#s15" x="278" y="339" fill="#446278"/><use href="#s14" x="472" y="339" fill="#3a4a5e"/><use href="#s3" x="120" y="339" fill="#bbad8f"/><use href="#s10" x="430" y="339" fill="#516f85"/><use href="#s12" x="550" y="339" fill="#557389"/><use href="#s15" x="534" y="339" fill="#778b95"/><use href="#s11" x="359" y="339" fill="#46647a"/><use href="#s12" x="123" y="340" fill="#bec0c2"/><use href="#s12" x="426" y="340" fill="#527086"/><use href="#s9" x="492" y="340" fill="#607e94"/><use href="#s2" x="262" y="340" fill="#d5d7d9"/><use href="#s3" x="410" y="340" fill="#b0a284"/><use href="#s4" x="217" y="340" fill="#d2d4d6"/><use href="#s11" x="255" y="340" fill="#527086"/><use href="#s13" x="284" y="340" fill="#b8babc"/><use href="#s15" x="188" y="340" fill="#b4a688"/><use href="#s9" x="204" y="340" fill="#b0a284"/><use href="#s4" x="167" y="340" fill="#4e6c82"/><use href="#s1" x="189" y="340" fill="#8498a2"/><use href="#s9" x="241" y="340" fill="#2e3e52"/><use href="#s10" x="447" y="340" fill="#57758b"/><use href="#s2" x="438" y="340" fill="#56748a"/><use href="#s9" x="153" y="340" fill="#81959f"/><use href="#s7" x="269" y="340" fill="#c9cbcd"/><use href="#s11" x="158" y="340" fill="#38485c"/><use href="#s13" x="144" y="341" fill="#324256"/><use href="#s9" x="503" y="341" fill="#d2d4d6"/><use href="#s15" x="119" y="341" fill="#304054"/><use href="#s12" x="241" y="341" fill="#4a687e"/><use href="#s11" x="526" y="341" fill="#5b798f"/><use href="#s12" x="111" y="341" fill="#b4a688"/><use href="#s9" x="109" y="341" fill="#59778d"/><use href="#s4" x="569" y="341" fill="#b4b6b8"/><use href="#s14" x="418" y="341" fill="#778b95"/><use href="#s11" x="530" y="341" fill="#6e828c"/><use href="#s10" x="563" y="342" fill="#2c3c50"/><use href="#s4" x="374" y="342" fill="#b9bbbd"/><use href="#s5" x="562" y="342" fill="#3b4b5f"/><use href="#s10" x="371" y="342" fill="#3b4b5f"/><use href="#s15" x="469" y="342" fill="#d3d5d7"/><use href="#s12" x="184" y="342" fill="#c1c3c5"/><use href="#s0" x="389" y="343" fill="#bcae90"/><use href="#s13" x="560" y="343" fill="#bc7f5b"/><use href="#s9" x="256" y="343" fill="#cb7461"/><use href="#s6" x="206" y="343" fill="#70848e"/><use href="#s12" x="339" y="343" fill="#8599a3"/><use href="#s14" x="561" y="343" fill="#c8ba9c"/><use href="#s6" x="425" y="343" fill="#bbbdbf"/><use href="#s6" x="548" y="343" fill="#304054"/><use href="#s11" x="310" y="343" fill="#beb092"/><use href="#s13" x="568" y="343" fill="#3a4a5e"/><use href="#s7" x="498" y="343" fill="#8296a0"/><use href="#s7" x="309" y="343" fill="#738791"/><use href="#s10" x="474" y="343" fill="#38485c"/><use href="#s11" x="117" y="344" fill="#506e84"/><use href="#s3" x="365" y="344" fill="#3b4b5f"/><use href="#s9" x="531" y="344" fill="#446278"/><use href="#s12" x="575" y="344" fill="#c97557"/><use href="#s12" x="336" y="344" fill="#ccced0"/><use href="#s11" x="314" y="344" fill="#c3c5c7"/><use href="#s11" x="134" y="344" fill="#354559"/><use href="#s13" x="221" y="344" fill="#728690"/><use href="#s5" x="231" y="344" fill="#47657b"/><use href="#s9" x="566" y="344" fill="#879ba5"/><use href="#s12" x="168" y="345" fill="#728690"/><use href="#s7" x="297" y="345" fill="#879ba5"/><use href="#s14" x="353" y="345" fill="#2f3f53"/><use href="#s5" x="368" y="345" fill="#c5b799"/><use href="#s11" x="331" y="345" fill="#869aa4"/><use href="#s5" x="366" y="345" fill="#b8aa8c"/><use href="#s10" x="359" y="345" fill="#47657b"/><use href="#s11" x="144" y="345" fill="#c3b597"/><use href="#s12" x="118" y="345" fill="#748892"/><use href="#s13" x="477" y="345" fill="#48667c"/><use href="#s13" x="563" y="345" fill="#c1b395"/><use href="#s13" x="279" y="345" fill="#5e7c92"/><use href="#s13" x="582" y="345" fill="#c3c5c7"/><use href="#s5" x="418" y="346" fill="#b4b6b8"/><use href="#s4" x="341" y="346" fill="#d8dadc"/><use href="#s9" x="265" y="346" fill="#c1c3c5"/><use href="#s1" x="557" y="346" fill="#4a687e"/><use href="#s8" x="437" y="346" fill="#354559"/><use href="#s14" x="333" y="346" fill="#4f6d83"/><use href="#s2" x="316" y="346" fill="#5b798f"/><use href="#s4" x="234" y="346" fill="#bbad8f"/><use href="#s15" x="185" y="347" fill="#5f7d93"/><use href="#s1" x="416" y="347" fill="#b4a688"/><use href="#s2" x="437" y="347" fill="#c9cbcd"/><use href="#s3" x="370" y="347" fill="#4d6b81"/><use href="#s1" x="468" y="347" fill="#5e7c92"/><use href="#s1" x="341" y="347" fill="#798d97"/><use href="#s14" x="320" y="347" fill="#869aa4"/><use href="#s15" x="420" y="347" fill="#d4d6d8"/><use href="#s9" x="192" y="347" fill="#879ba5"/><use href="#s11" x="261" y="347" fill="#cb845b"/><use href="#s6" x="530" y="347" fill="#cdcfd1"/><use href="#s15" x="556" y="347" fill="#506e84"/><use href="#s7" x="508" y="347" fill="#4b697f"/><use href="#s6" x="229" y="348" fill="#638197"/><use href="#s15" x="330" y="348" fill="#527086"/><use href="#s10" x="196" y="348" fill="#57758b"/><use href="#s8" x="156" y="348" fill="#879ba5"/><use href="#s6" x="285" y="348" fill="#d1d3d5"/><use href="#s15" x="522" y="348" fill="#c4b698"/><use href="#s6" x="514" y="348" fill="#5d7b91"/><use href="#s15" x="574" y="348" fill="#354559"/><use href="#s12" x="144" y="348" fill="#c0c2c4"/><use href="#s8" x="262" y="348" fill="#3b4b5f"/><use href="#s1" x="286" y="348" fill="#c6c8ca"/><use href="#s7" x="574" y="348" fill="#8599a3"/><use href="#s2" x="117" y="348" fill="#cbcdcf"/><use href="#s2" x="256" y="348" fill="#869aa4"/><use href="#s15" x="497" y="348" fill="#4a687e"/><use href="#s13" x="269" y="348" fill="#3a4a5e"/><use href="#s10" x="110" y="348" fill="#71858f"/><use href="#s14" x="274" y="349" fill="#49677d"/><use href="#s1" x="110" y="349" fill="#bc7b5e"/><use href="#s0" x="523" y="349" fill="#d9dbdd"/><use href="#s14" x="239" y="349" fill="#506e84"/><use href="#s3" x="387" y="349" fill="#2e3e52"/><use href="#s6" x="356" y="349" fill="#bbbdbf"/><use href="#s1" x="316" y="349" fill="#c2b496"/><use href="#s12" x="310" y="349" fill="#4e6c82"/><use href="#s3" x="168" y="349" fill="#456379"/><use href="#s10" x="397" y="349" fill="#4f6d83"/><use href="#s0" x="464" y="349" fill="#d1d3d5"/><use href="#s11" x="429" y="349" fill="#344458"/><use href="#s0" x="354" y="349" fill="#47657b"/><use href="#s5" x="340" y="350" fill="#5d7b91"/><use href="#s5" x="388" y="350" fill="#879ba5"/><use href="#s10" x="125" y="350" fill="#648298"/><use href="#s4" x="182" y="350" fill="#b2a486"/><use href="#s15" x="283" y="350" fill="#c8ba9c"/><use href="#s3" x="445" y="350" fill="#728690"/><use href="#s15" x="283" y="350" fill="#c67460"/><use href="#s1" x="553" y="351" fill="#38485c"/><use href="#s8" x="211" y="351" fill="#46647a"/><use href="#s5" x="546" y="351" fill="#4c6a80"/><use href="#s7" x="214" y="351" fill="#5a788e"/><use href="#s3" x="566" y="351" fill="#bdaf91"/><use href="#s9" x="545" y="351" fill="#354559"/><use href="#s13" x="377" y="351" fill="#304054"/><use href="#s8" x="363" y="351" fill="#7e929c"/><use href="#s9" x="577" y="351" fill="#dcdee0"/><use href="#s1" x="351" y="351" fill="#4c6a80"/><use href="#s3" x="118" y="351" fill="#5f7d93"/><use href="#s9" x="478" y="351" fill="#7f939d"/><use href="#s3" x="189" y="352" fill="#7a8e98"/><use href="#s0" x="373" y="352" fill="#c4b698"/><use href="#s5" x="114" y="352" fill="#38485c"/><use href="#s12" x="382" y="352" fill="#4a687e"/><use href="#s3" x="554" y="352" fill="#66849a"/><use href="#s13" x="384" y="352" fill="#5c7a90"/><use href="#s0" x="281" y="352" fill="#5f7d93"/><use href="#s11" x="295" y="352" fill="#5f7d93"/><use href="#s9" x="128" y="352" fill="#c37450"/><use href="#s4" x="302" y="352" fill="#c4b698"/><use href="#s4" x="292" y="352" fill="#b8aa8c"/><use href="#s3" x="433" y="352" fill="#dee0e2"/><use href="#s9" x="529" y="352" fill="#49677d"/><use href="#s15" x="125" y="352" fill="#cc7b5d"/><use href="#s1" x="144" y="352" fill="#d1d3d5"/><use href="#s9" x="495" y="353" fill="#628096"/><use href="#s7" x="481" y="353" fill="#ca8451"/><use href="#s3" x="158" y="353" fill="#5f7d93"/><use href="#s5" x="535" y="353" fill="#5a788e"/><use href="#s2" x="444" y="353" fill="#cdcfd1"/><use href="#s3" x="384" y="353" fill="#d6d8da"/><use href="#s2" x="250" y="354" fill="#81959f"/><use href="#s3" x="319" y="354" fill="#b6b8ba"/><use href="#s6" x="151" y="354" fill="#bbad8f"/><use href="#s3" x="150" y="354" fill="#3a4a5e"/><use href="#s15" x="196" y="354" fill="#56748a"/><use href="#s13" x="439" y="354" fill="#c1b395"/><use href="#s11" x="241" y="354" fill="#b2a486"/><use href="#s11" x="244" y="354" fill="#bcbec0"/><use href="#s4" x="578" y="354" fill="#617f95"/><use href="#s3" x="127" y="354" fill="#d6d8da"/><use href="#s6" x="474" y="354" fill="#b6b8ba"/><use href="#s4" x="497" y="354" fill="#babcbe"/><use href="#s6" x="319" y="354" fill="#c4b698"/><use href="#s12" x="532" y="354" fill="#658399"/><use href="#s15" x="508" y="355" fill="#b5a789"/><use href="#s7" x="471" y="355" fill="#dbdddf"/><use href="#s1" x="447" y="355" fill="#38485c"/><use href="#s13" x="494" y="355" fill="#d5d7d9"/><use href="#s14" x="543" y="355" fill="#71858f"/><use href="#s14" x="467" y="355" fill="#bcae90"/><use href="#s2" x="469" y="355" fill="#cfd1d3"/><use href="#s10" x="168" y="355" fill="#c57d56"/><use href="#s10" x="424" y="355" fill="#547288"/><use href="#s6" x="198" y="355" fill="#d5d7d9"/><use href="#s1" x="258" y="355" fill="#3e4e62"/><use href="#s4" x="481" y="355" fill="#d3d5d7"/><use href="#s1" x="158" y="355" fill="#b7b9bb"/><use href="#s13" x="349" y="355" fill="#344458"/><use href="#s9" x="502" y="355" fill="#648298"/><use href="#s2" x="352" y="355" fill="#59778d"/><use href="#s10" x="253" y="355" fill="#c9cbcd"/><use href="#s14" x="531" y="355" fill="#b5a789"/><use href="#s5" x="403" y="355" fill="#344458"/><use href="#s11" x="547" y="355" fill="#456379"/><use href="#s3" x="297" y="356" fill="#beb092"/><use href="#s13" x="284" y="356" fill="#babcbe"/><use href="#s13" x="180" y="356" fill="#617f95"/><use href="#s7" x="116" y="356" fill="#cb7851"/><use href="#s8" x="578" y="356" fill="#b4a688"/><use href="#s10" x="409" y="356" fill="#c8ba9c"/><use href="#s2" x="183" y="356" fill="#c2b496"/><use href="#s11" x="544" y="356" fill="#8296a0"/><use href="#s8" x="236" y="356" fill="#59778d"/><use href="#s4" x="129" y="357" fill="#39495d"/><use href="#s4" x="236" y="357" fill="#bf8060"/><use href="#s9" x="552" y="357" fill="#738791"/><use href="#s12" x="120" y="357" fill="#638197"/><use href="#s2" x="446" y="357" fill="#c5b799"/><use href="#s5" x="342" y="357" fill="#b5b7b9"/><use href="#s4" x="445" y="357" fill="#caccce"/><use href="#s12" x="536" y="357" fill="#4d6b81"/><use href="#s2" x="458" y="357" fill="#d3d5d7"/><use href="#s12" x="258" y="357" fill="#748892"/><use href="#s12" x="350" y="357" fill="#d3d5d7"/><use href="#s9" x="425" y="357" fill="#59778d"/><use href="#s0" x="581" y="358" fill="#4a687e"/><use href="#s12" x="428" y="358" fill="#ccced0"/><use href="#s14" x="361" y="358" fill="#7c909a"/><use href="#s0" x="471" y="358" fill="#49677d"/><use href="#s6" x="273" y="358" fill="#c7c9cb"/><use href="#s12" x="417" y="358" fill="#48667c"/><use href="#s7" x="350" y="358" fill="#446278"/><use href="#s1" x="295" y="358" fill="#dadcde"/><use href="#s6" x="384" y="358" fill="#56748a"/><use href="#s5" x="414" y="359" fill="#c1815c"/><use href="#s9" x="118" y="359" fill="#bfc1c3"/><use href="#s7" x="162" y="359" fill="#beb092"/><use href="#s5" x="451" y="359" fill="#344458"/><use href="#s1" x="393" y="359" fill="#5a788e"/><use href="#s15" x="229" y="359" fill="#5c7a90"/><use href="#s3" x="377" y="359" fill="#cbcdcf"/><use href="#s2" x="173" y="359" fill="#4d6b81"/><use href="#s3" x="177" y="359" fill="#527086"/><use href="#s6" x="350" y="359" fill="#3d4d61"/><use href="#s6" x="227" y="360" fill="#dcdee0"/><use href="#s6" x="535" y="360" fill="#c3745a"/><use href="#s12" x="378" y="360" fill="#5a788e"/><use href="#s7" x="441" y="360" fill="#d8dadc"/><use href="#s12" x="473" y="360" fill="#738791"/><use href="#s14" x="330" y="360" fill="#dddfe1"/><use href="#s3" x="141" y="360" fill="#d1d3d5"/><use href="#s15" x="441" y="360" fill="#36465a"/><use href="#s15" x="500" y="360" fill="#b9ab8d"/><use href="#s12" x="564" y="361" fill="#557389"/><use href="#s13" x="253" y="361" fill="#bdaf91"/><use href="#s5" x="121" y="361" fill="#baac8e"/><use href="#s15" x="326" y="361" fill="#607e94"/><use href="#s7" x="182" y="361" fill="#b5b7b9"/><use href="#s14" x="230" y="361" fill="#5d7b91"/><use href="#s0" x="492" y="361" fill="#66849a"/><use href="#s14" x="388" y="361" fill="#66849a"/><use href="#s4" x="331" y="362" fill="#4d6b81"/><use href="#s12" x="434" y="362" fill="#557389"/><use href="#s14" x="363" y="362" fill="#354559"/><use href="#s0" x="409" y="362" fill="#49677d"/><use href="#s7" x="221" y="362" fill="#71858f"/><use href="#s11" x="471" y="362" fill="#446278"/><use href="#s3" x="120" y="362" fill="#37475b"/><use href="#s8" x="448" y="362" fill="#49677d"/><use href="#s14" x="473" y="362" fill="#b8babc"/><use href="#s15" x="574" y="363" fill="#babcbe"/><use href="#s11" x="353" y="363" fill="#516f85"/><use href="#s13" x="371" y="363" fill="#56748a"/><use href="#s3" x="181" y="363" fill="#405064"/><use href="#s3" x="251" y="363" fill="#4c6a80"/><use href="#s8" x="309" y="363" fill="#58768c"/><use href="#s11" x="402" y="363" fill="#5a788e"/><use href="#s12" x="503" y="363" fill="#bdaf91"/><use href="#s14" x="388" y="363" fill="#c3c5c7"/><use href="#s11" x="227" y="363" fill="#d1d3d5"/><use href="#s5" x="138" y="363" fill="#cbcdcf"/><use href="#s8" x="265" y="363" fill="#d0d2d4"/><use href="#s11" x="537" y="363" fill="#869aa4"/><use href="#s12" x="251" y="363" fill="#bec0c2"/><use href="#s2" x="340" y="363" fill="#d7d9db"/><use href="#s7" x="430" y="363" fill="#8498a2"/><use href="#s12" x="485" y="363" fill="#3e4e62"/><use href="#s2" x="296" y="364" fill="#b4a688"/><use href="#s1" x="291" y="364" fill="#405064"/><use href="#s10" x="290" y="364" fill="#527086"/><use href="#s3" x="326" y="364" fill="#d4d6d8"/><use href="#s12" x="140" y="364" fill="#2d3d51"/><use href="#s13" x="206" y="364" fill="#b4b6b8"/><use href="#s9" x="580" y="365" fill="#bdaf91"/><use href="#s11" x="138" y="365" fill="#516f85"/><use href="#s13" x="302" y="365" fill="#d1d3d5"/><use href="#s15" x="224" y="365" fill="#2c3c50"/><use href="#s13" x="492" y="365" fill="#c4c6c8"/><use href="#s9" x="191" y="365" fill="#bbad8f"/><use href="#s13" x="421" y="365" fill="#bcae90"/><use href="#s0" x="221" y="365" fill="#4c6a80"/><use href="#s14" x="313" y="365" fill="#d2d4d6"/><use href="#s0" x="427" y="365" fill="#b9ab8d"/><use href="#s0" x="346" y="365" fill="#8498a2"/><use href="#s15" x="483" y="365" fill="#b7b9bb"/><use href="#s1" x="533" y="365" fill="#d2d4d6"/><use href="#s9" x="353" y="365" fill="#c2c4c6"/><use href="#s2" x="399" y="365" fill="#bdaf91"/><use href="#s3" x="216" y="365" fill="#8599a3"/><use href="#s6" x="541" y="366" fill="#c2c4c6"/><use href="#s8" x="548" y="366" fill="#344458"/><use href="#s5" x="321" y="366" fill="#7d919b"/><use href="#s1" x="301" y="366" fill="#2c3c50"/><use href="#s13" x="472" y="366" fill="#405064"/><use href="#s2" x="144" y="366" fill="#49677d"/><use href="#s15" x="481" y="366" fill="#d3d5d7"/><use href="#s14" x="457" y="366" fill="#b9bbbd"/><use href="#s5" x="231" y="367" fill="#b0a284"/><use href="#s4" x="386" y="367" fill="#d1d3d5"/><use href="#s13" x="327" y="367" fill="#3a4a5e"/><use href="#s5" x="225" y="367" fill="#b5b7b9"/><use href="#s9" x="195" y="367" fill="#46647a"/><use href="#s1" x="454" y="367" fill="#b3a587"/><use href="#s12" x="287" y="367" fill="#314155"/><use href="#s7" x="154" y="367" fill="#4a687e"/><use href="#s3" x="440" y="367" fill="#d0d2d4"/><use href="#s11" x="282" y="367" fill="#bdbfc1"/><use href="#s4" x="361" y="368" fill="#c2c4c6"/><use href="#s7" x="498" y="368" fill="#607e94"/><use href="#s6" x="505" y="368" fill="#4b697f"/><use href="#s2" x="229" y="368" fill="#c6b89a"/><use href="#s3" x="252" y="368" fill="#47657b"/><use href="#s4" x="478" y="368" fill="#b9bbbd"/><use href="#s13" x="262" y="368" fill="#c1b395"/><use href="#s7" x="223" y="368" fill="#7a8e98"/><use href="#s14" x="437" y="368" fill="#47657b"/><use href="#s3" x="419" y="368" fill="#c5b799"/><use href="#s1" x="222" y="368" fill="#ccced0"/><use href="#s13" x="162" y="369" fill="#57758b"/><use href="#s15" x="560" y="369" fill="#dddfe1"/><use href="#s9" x="412" y="369" fill="#5c7a90"/><use href="#s6" x="490" y="369" fill="#516f85"/><use href="#s9" x="440" y="369" fill="#527086"/><use href="#s13" x="262" y="369" fill="#b8aa8c"/><use href="#s10" x="274" y="369" fill="#c3c5c7"/><use href="#s9" x="362" y="369" fill="#37475b"/><use href="#s14" x="487" y="369" fill="#456379"/><use href="#s7" x="466" y="369" fill="#d7d9db"/><use href="#s12" x="580" y="369" fill="#b8aa8c"/><use href="#s13" x="257" y="369" fill="#5d7b91"/><use href="#s5" x="163" y="370" fill="#36465a"/><use href="#s3" x="406" y="370" fill="#7c909a"/><use href="#s7" x="376" y="370" fill="#b8aa8c"/><use href="#s13" x="370" y="370" fill="#648298"/><use href="#s9" x="504" y="370" fill="#bcbec0"/><use href="#s9" x="176" y="370" fill="#71858f"/><use href="#s10" x="254" y="370" fill="#b6b8ba"/><use href="#s13" x="417" y="370" fill="#5a788e"/><use href="#s12" x="359" y="370" fill="#d7d9db"/><use href="#s12" x="261" y="370" fill="#c2b496"/><use href="#s11" x="250" y="371" fill="#58768c"/><use href="#s14" x="169" y="371" fill="#b4b6b8"/><use href="#s15" x="169" y="371" fill="#3c4c60"/><use href="#s2" x="370" y="371" fill="#456379"/><use href="#s1" x="129" y="371" fill="#d8dadc"/><use href="#s13" x="396" y="371" fill="#beb092"/><use href="#s13" x="455" y="371" fill="#748892"/><use href="#s13" x="469" y="372" fill="#d5d7d9"/><use href="#s14" x="337" y="372" fill="#c1c3c5"/><use href="#s0" x="560" y="372" fill="#c0b294"/><use href="#s11" x="253" y="372" fill="#3c4c60"/><use href="#s7" x="499" y="372" fill="#3b4b5f"/><use href="#s3" x="160" y="372" fill="#d8dadc"/><use href="#s7" x="406" y="372" fill="#c5b799"/><use href="#s8" x="441" y="372" fill="#334357"/><use href="#s8" x="303" y="372" fill="#b9ab8d"/><use href="#s0" x="202" y="372" fill="#b6b8ba"/><use href="#s7" x="216" y="372" fill="#3c4c60"/><use href="#s5" x="199" y="373" fill="#67859b"/><use href="#s13" x="156" y="373" fill="#314155"/><use href="#s11" x="461" y="373" fill="#527086"/><use href="#s11" x="142" y="373" fill="#c6c8ca"/><use href="#s4" x="405" y="373" fill="#b5a789"/><use href="#s9" x="556" y="373" fill="#c2c4c6"/><use href="#s4" x="470" y="374" fill="#537187"/><use href="#s5" x="167" y="374" fill="#67859b"/><use href="#s15" x="411" y="374" fill="#8397a1"/><use href="#s12" x="382" y="374" fill="#516f85"/><use href="#s6" x="448" y="374" fill="#67859b"/><use href="#s10" x="518" y="374" fill="#c9bb9d"/><use href="#s11" x="360" y="374" fill="#c2c4c6"/><use href="#s7" x="123" y="374" fill="#d6d8da"/><use href="#s4" x="545" y="374" fill="#607e94"/><use href="#s0" x="427" y="374" fill="#456379"/><use href="#s13" x="238" y="375" fill="#c1c3c5"/><use href="#s8" x="205" y="375" fill="#7a8e98"/><use href="#s6" x="285" y="375" fill="#d2d4d6"/><use href="#s10" x="139" y="375" fill="#4a687e"/><use href="#s13" x="262" y="375" fill="#c6c8ca"/><use href="#s7" x="190" y="375" fill="#d6d8da"/><use href="#s8" x="419" y="375" fill="#5e7c92"/><use href="#s6" x="326" y="375" fill="#334357"/><use href="#s12" x="581" y="375" fill="#4c6a80"/><use href="#s11" x="380" y="375" fill="#c1b395"/><use href="#s7" x="545" y="375" fill="#456379"/><use href="#s13" x="579" y="375" fill="#d0d2d4"/><use href="#s5" x="538" y="376" fill="#4e6c82"/><use href="#s13" x="528" y="376" fill="#b5a789"/><use href="#s6" x="162" y="376" fill="#6f838d"/><use href="#s14" x="406" y="376" fill="#c8cacc"/><use href="#s1" x="419" y="376" fill="#d8dadc"/><use href="#s13" x="213" y="376" fill="#c5c7c9"/><use href="#s13" x="153" y="377" fill="#5e7c92"/><use href="#s4" x="263" y="377" fill="#b0a284"/><use href="#s5" x="414" y="377" fill="#c3c5c7"/><use href="#s4" x="337" y="377" fill="#3a4a5e"/><use href="#s13" x="422" y="377" fill="#67859b"/><use href="#s10" x="534" y="377" fill="#cfd1d3"/><use href="#s6" x="524" y="377" fill="#547288"/><use href="#s4" x="344" y="377" fill="#47657b"/><use href="#s7" x="231" y="377" fill="#be7c58"/><use href="#s3" x="151" y="377" fill="#d4d6d8"/><use href="#s8" x="508" y="378" fill="#547288"/><use href="#s10" x="549" y="378" fill="#628096"/><use href="#s15" x="454" y="378" fill="#bcbec0"/><use href="#s3" x="570" y="378" fill="#c6c8ca"/><use href="#s12" x="502" y="378" fill="#67859b"/><use href="#s13" x="438" y="378" fill="#537187"/><use href="#s7" x="315" y="378" fill="#798d97"/><use href="#s1" x="401" y="378" fill="#80949e"/><use href="#s1" x="118" y="378" fill="#4a687e"/><use href="#s13" x="418" y="378" fill="#7a8e98"/><use href="#s15" x="266" y="379" fill="#3d4d61"/><use href="#s9" x="479" y="379" fill="#dcdee0"/><use href="#s3" x="481" y="379" fill="#cc8053"/><use href="#s8" x="267" y="379" fill="#cc855c"/><use href="#s5" x="413" y="379" fill="#cfd1d3"/><use href="#s13" x="357" y="379" fill="#b3a587"/><use href="#s0" x="563" y="379" fill="#c97e5b"/><use href="#s13" x="317" y="379" fill="#dbdddf"/><use href="#s0" x="257" y="379" fill="#334357"/><use href="#s6" x="258" y="379" fill="#dbdddf"/><use href="#s10" x="523" y="380" fill="#b5a789"/><use href="#s7" x="332" y="380" fill="#658399"/><use href="#s4" x="278" y="380" fill="#c6745d"/><use href="#s5" x="416" y="380" fill="#5c7a90"/><use href="#s1" x="424" y="380" fill="#748892"/><use href="#s12" x="456" y="380" fill="#caccce"/><use href="#s9" x="225" y="380" fill="#caccce"/><use href="#s11" x="502" y="380" fill="#d9dbdd"/><use href="#s8" x="490" y="380" fill="#638197"/><use href="#s6" x="469" y="380" fill="#b5b7b9"/><use href="#s11" x="409" y="380" fill="#b4b6b8"/><use href="#s10" x="128" y="381" fill="#b2a486"/><use href="#s0" x="492" y="381" fill="#b1a385"/><use href="#s8" x="463" y="381" fill="#59778d"/><use href="#s15" x="525" y="381" fill="#bb7a5d"/><use href="#s14" x="278" y="381" fill="#354559"/><use href="#s1" x="360" y="381" fill="#446278"/><use href="#s14" x="457" y="381" fill="#8397a1"/><use href="#s11" x="124" y="381" fill="#bbad8f"/><use href="#s8" x="218" y="382" fill="#4b697f"/><use href="#s12" x="215" y="382" fill="#516f85"/><use href="#s10" x="186" y="382" fill="#d8dadc"/><use href="#s10" x="199" y="382" fill="#7b8f99"/><use href="#s11" x="220" y="382" fill="#bec0c2"/><use href="#s8" x="213" y="382" fill="#557389"/><use href="#s13" x="155" y="382" fill="#48667c"/><use href="#s3" x="118" y="382" fill="#446278"/><use href="#s9" x="197" y="382" fill="#d0d2d4"/><use href="#s14" x="479" y="383" fill="#768a94"/><use href="#s9" x="332" y="383" fill="#c6c8ca"/><use href="#s10" x="327" y="383" fill="#4a687e"/><use href="#s6" x="268" y="383" fill="#547288"/><use href="#s10" x="460" y="383" fill="#7a8e98"/><use href="#s0" x="575" y="383" fill="#798d97"/><use href="#s0" x="251" y="383" fill="#3f4f63"/><use href="#s0" x="131" y="383" fill="#5e7c92"/><use href="#s0" x="181" y="383" fill="#58768c"/><use href="#s15" x="347" y="383" fill="#c1c3c5"/><use href="#s1" x="194" y="384" fill="#314155"/><use href="#s11" x="116" y="384" fill="#7d919b"/><use href="#s13" x="206" y="384" fill="#527086"/><use href="#s5" x="202" y="384" fill="#2e3e52"/><use href="#s14" x="250" y="384" fill="#baac8e"/><use href="#s10" x="479" y="384" fill="#748892"/><use href="#s3" x="120" y="384" fill="#ccced0"/><use href="#s8" x="475" y="384" fill="#324256"/><use href="#s12" x="443" y="384" fill="#dadcde"/><use href="#s13" x="161" y="384" fill="#80949e"/><use href="#s10" x="561" y="384" fill="#dddfe1"/><use href="#s13" x="370" y="384" fill="#c5b799"/><use href="#s2" x="442" y="384" fill="#bcae90"/><use href="#s11" x="446" y="384" fill="#bbad8f"/><use href="#s2" x="251" y="385" fill="#4a687e"/><use href="#s10" x="163" y="385" fill="#bec0c2"/><use href="#s2" x="156" y="385" fill="#57758b"/><use href="#s15" x="190" y="385" fill="#ced0d2"/><use href="#s12" x="507" y="385" fill="#d7d9db"/><use href="#s11" x="252" y="385" fill="#628096"/><use href="#s4" x="137" y="385" fill="#516f85"/><use href="#s1" x="273" y="385" fill="#56748a"/><use href="#s2" x="318" y="385" fill="#5e7c92"/><use href="#s7" x="369" y="385" fill="#bbbdbf"/><use href="#s9" x="286" y="385" fill="#3a4a5e"/><use href="#s9" x="124" y="385" fill="#bdaf91"/><use href="#s8" x="485" y="386" fill="#b3a587"/><use href="#s11" x="237" y="386" fill="#5c7a90"/><use href="#s1" x="407" y="386" fill="#798d97"/><use href="#s3" x="580" y="386" fill="#beb092"/><use href="#s1" x="438" y="386" fill="#38485c"/><use href="#s13" x="259" y="386" fill="#354559"/><use href="#s15" x="230" y="386" fill="#537187"/><use href="#s7" x="304" y="386" fill="#49677d"/><use href="#s8" x="241" y="386" fill="#446278"/><use href="#s5" x="140" y="386" fill="#b4a688"/><use href="#s11" x="451" y="386" fill="#557389"/><use href="#s2" x="351" y="386" fill="#cb805c"/><use href="#s1" x="158" y="387" fill="#516f85"/><use href="#s0" x="535" y="387" fill="#3e4e62"/><use href="#s13" x="475" y="387" fill="#456379"/><use href="#s15" x="303" y="387" fill="#c9cbcd"/><use href="#s2" x="163" y="387" fill="#c9cbcd"/><use href="#s2" x="209" y="387" fill="#beb092"/><use href="#s11" x="231" y="387" fill="#dee0e2"/><use href="#s7" x="143" y="387" fill="#d3d5d7"/><use href="#s11" x="377" y="387" fill="#778b95"/><use href="#s9" x="573" y="387" fill="#c2c4c6"/><use href="#s13" x="121" y="387" fill="#5e7c92"/><use href="#s8" x="294" y="388" fill="#4c6a80"/><use href="#s2" x="369" y="388" fill="#3d4d61"/><use href="#s7" x="342" y="388" fill="#506e84"/><use href="#s15" x="125" y="388" fill="#4e6c82"/><use href="#s13" x="454" y="388" fill="#648298"/><use href="#s1" x="516" y="388" fill="#48667c"/><use href="#s11" x="274" y="388" fill="#648298"/><use href="#s8" x="284" y="388" fill="#beb092"/><use href="#s12" x="547" y="388" fill="#d5d7d9"/><use href="#s8" x="317" y="388" fill="#c9cbcd"/><use href="#s0" x="537" y="389" fill="#5e7c92"/><use href="#s12" x="346" y="389" fill="#c4c6c8"/><use href="#s6" x="315" y="389" fill="#49677d"/><use href="#s7" x="144" y="389" fill="#d6d8da"/><use href="#s12" x="360" y="389" fill="#56748a"/><use href="#s5" x="235" y="390" fill="#c37351"/><use href="#s5" x="146" y="390" fill="#c4c6c8"/><use href="#s1" x="471" y="390" fill="#66849a"/><use href="#s13" x="390" y="390" fill="#537187"/><use href="#s2" x="236" y="390" fill="#bbad8f"/><use href="#s9" x="565" y="390" fill="#59778d"/><use href="#s0" x="552" y="390" fill="#4d6b81"/><use href="#s3" x="166" y="390" fill="#b7a98b"/><use href="#s6" x="560" y="390" fill="#7a8e98"/><use href="#s13" x="380" y="390" fill="#caccce"/><use href="#s15" x="415" y="390" fill="#7e929c"/><use href="#s13" x="233" y="390" fill="#d4d6d8"/><use href="#s9" x="400" y="390" fill="#557389"/><use href="#s6" x="438" y="391" fill="#bec0c2"/><use href="#s2" x="218" y="391" fill="#506e84"/><use href="#s10" x="239" y="391" fill="#56748a"/><use href="#s14" x="272" y="391" fill="#dcdee0"/><use href="#s4" x="520" y="391" fill="#d4d6d8"/><use href="#s4" x="207" y="391" fill="#caccce"/><use href="#s9" x="447" y="391" fill="#dee0e2"/><use href="#s13" x="219" y="391" fill="#537187"/><use href="#s6" x="385" y="391" fill="#bb7860"/><use href="#s2" x="353" y="391" fill="#4b697f"/><use href="#s0" x="517" y="391" fill="#628096"/><use href="#s14" x="348" y="391" fill="#cdcfd1"/><use href="#s11" x="284" y="391" fill="#4f6d83"/><use href="#s13" x="483" y="391" fill="#46647a"/><use href="#s4" x="223" y="391" fill="#39495d"/><use href="#s7" x="492" y="392" fill="#36465a"/><use href="#s6" x="218" y="392" fill="#6f838d"/><use href="#s3" x="167" y="392" fill="#7c909a"/><use href="#s10" x="573" y="392" fill="#2e3e52"/><use href="#s13" x="161" y="392" fill="#ccced0"/><use href="#s9" x="319" y="392" fill="#5a788e"/><use href="#s3" x="433" y="392" fill="#bfc1c3"/><use href="#s9" x="325" y="392" fill="#3f4f63"/><use href="#s14" x="443" y="392" fill="#8498a2"/><use href="#s9" x="208" y="392" fill="#d8dadc"/><use href="#s2" x="342" y="392" fill="#658399"/><use href="#s12" x="439" y="392" fill="#8397a1"/><use href="#s7" x="339" y="393" fill="#dddfe1"/><use href="#s8" x="219" y="393" fill="#8599a3"/><use href="#s1" x="109" y="393" fill="#c5c7c9"/><use href="#s13" x="581" y="393" fill="#788c96"/><use href="#s1" x="201" y="393" fill="#4d6b81"/><use href="#s8" x="415" y="393" fill="#b5b7b9"/><use href="#s12" x="149" y="393" fill="#58768c"/><use href="#s4" x="166" y="393" fill="#c3c5c7"/><use href="#s14" x="474" y="393" fill="#c2b496"/><use href="#s2" x="290" y="393" fill="#bbbdbf"/><use href="#s13" x="272" y="393" fill="#dddfe1"/><use href="#s14" x="499" y="393" fill="#506e84"/><use href="#s15" x="242" y="393" fill="#b6a88a"/><use href="#s12" x="375" y="393" fill="#c6865c"/><use href="#s6" x="414" y="394" fill="#d1d3d5"/><use href="#s9" x="229" y="394" fill="#4f6d83"/><use href="#s14" x="367" y="394" fill="#5c7a90"/><use href="#s12" x="141" y="394" fill="#5d7b91"/><use href="#s13" x="485" y="394" fill="#c5b799"/><use href="#s12" x="547" y="394" fill="#beb092"/><use href="#s14" x="326" y="394" fill="#4d6b81"/><use href="#s3" x="332" y="394" fill="#dcdee0"/><use href="#s5" x="275" y="394" fill="#71858f"/><use href="#s11" x="545" y="394" fill="#d4d6d8"/><use href="#s12" x="369" y="394" fill="#49677d"/><use href="#s2" x="316" y="394" fill="#dbdddf"/><use href="#s10" x="230" y="394" fill="#dbdddf"/><use href="#s13" x="390" y="395" fill="#304054"/><use href="#s13" x="536" y="395" fill="#798d97"/><use href="#s10" x="429" y="395" fill="#d6d8da"/><use href="#s14" x="380" y="395" fill="#c7b99b"/><use href="#s12" x="513" y="395" fill="#cfd1d3"/><use href="#s0" x="510" y="395" fill="#bbbdbf"/><use href="#s5" x="205" y="395" fill="#c6c8ca"/><use href="#s15" x="497" y="395" fill="#648298"/><use href="#s13" x="230" y="395" fill="#dbdddf"/><use href="#s7" x="568" y="395" fill="#324256"/><use href="#s12" x="208" y="395" fill="#66849a"/><use href="#s10" x="387" y="396" fill="#d1d3d5"/><use href="#s10" x="285" y="396" fill="#48667c"/><use href="#s13" x="507" y="396" fill="#c17f62"/><use href="#s9" x="318" y="396" fill="#bcbec0"/><use href="#s8" x="317" y="396" fill="#7a8e98"/><use href="#s2" x="228" y="396" fill="#c8cacc"/><use href="#s5" x="128" y="396" fill="#67859b"/><use href="#s1" x="181" y="396" fill="#c7c9cb"/><use href="#s9" x="325" y="397" fill="#babcbe"/><use href="#s7" x="408" y="397" fill="#d0d2d4"/><use href="#s12" x="414" y="397" fill="#4b697f"/><use href="#s10" x="496" y="397" fill="#658399"/><use href="#s9" x="553" y="397" fill="#37475b"/><use href="#s9" x="254" y="397" fill="#c0c2c4"/><use href="#s1" x="575" y="397" fill="#c58761"/><use href="#s5" x="119" y="397" fill="#3f4f63"/><use href="#s14" x="531" y="397" fill="#7e929c"/><use href="#s0" x="308" y="397" fill="#bdbfc1"/><use href="#s1" x="347" y="397" fill="#4d6b81"/><use href="#s10" x="117" y="397" fill="#37475b"/><use href="#s0" x="116" y="397" fill="#d9dbdd"/><use href="#s15" x="539" y="397" fill="#bd7553"/><use href="#s2" x="156" y="397" fill="#8397a1"/><use href="#s13" x="289" y="397" fill="#7c909a"/><use href="#s12" x="467" y="397" fill="#537187"/><use href="#s7" x="185" y="398" fill="#57758b"/><use href="#s4" x="477" y="398" fill="#768a94"/><use href="#s14" x="487" y="398" fill="#607e94"/><use href="#s0" x="217" y="398" fill="#dee0e2"/><use href="#s13" x="161" y="398" fill="#bbad8f"/><use href="#s5" x="264" y="398" fill="#46647a"/><use href="#s2" x="214" y="398" fill="#4e6c82"/><use href="#s8" x="167" y="398" fill="#56748a"/><use href="#s10" x="255" y="398" fill="#b9ab8d"/><use href="#s13" x="373" y="398" fill="#d9dbdd"/><use href="#s6" x="164" y="398" fill="#446278"/><use href="#s6" x="432" y="398" fill="#c4c6c8"/><use href="#s8" x="264" y="398" fill="#b4b6b8"/><use href="#s3" x="304" y="399" fill="#758993"/><use href="#s14" x="248" y="399" fill="#2f3f53"/><use href="#s11" x="255" y="399" fill="#39495d"/><use href="#s13" x="357" y="399" fill="#d4d6d8"/><use href="#s12" x="183" y="399" fill="#6f838d"/><use href="#s14" x="203" y="399" fill="#dadcde"/><use href="#s15" x="376" y="399" fill="#49677d"/><use href="#s14" x="120" y="399" fill="#758993"/><use href="#s2" x="222" y="399" fill="#b3a587"/><use href="#s12" x="404" y="400" fill="#70848e"/><use href="#s1" x="517" y="400" fill="#6f838d"/><use href="#s10" x="202" y="400" fill="#c1c3c5"/><use href="#s13" x="146" y="400" fill="#7b8f99"/><use href="#s10" x="172" y="400" fill="#b2a486"/><use href="#s4" x="203" y="400" fill="#3e4e62"/><use href="#s1" x="397" y="400" fill="#527086"/><use href="#s3" x="403" y="400" fill="#49677d"/><use href="#s8" x="284" y="400" fill="#71858f"/><use href="#s8" x="114" y="400" fill="#bbbdbf"/><use href="#s7" x="380" y="400" fill="#bb7f53"/><use href="#s12" x="391" y="400" fill="#d7d9db"/><use href="#s7" x="146" y="400" fill="#c4b698"/><use href="#s13" x="567" y="400" fill="#b5a789"/><use href="#s4" x="178" y="400" fill="#2d3d51"/><use href="#s7" x="546" y="400" fill="#c2c4c6"/><use href="#s2" x="176" y="400" fill="#59778d"/><use href="#s11" x="213" y="401" fill="#4c6a80"/><use href="#s10" x="417" y="401" fill="#4e6c82"/><use href="#s9" x="233" y="401" fill="#778b95"/><use href="#s7" x="108" y="401" fill="#5f7d93"/><use href="#s7" x="510" y="401" fill="#5e7c92"/><use href="#s6" x="144" y="401" fill="#537187"/><use href="#s11" x="338" y="401" fill="#cbcdcf"/><use href="#s7" x="537" y="401" fill="#658399"/><use href="#s9" x="132" y="401" fill="#547288"/><use href="#s3" x="423" y="401" fill="#b4b6b8"/><use href="#s6" x="186" y="401" fill="#b4a688"/><use href="#s15" x="154" y="402" fill="#d8dadc"/><use href="#s0" x="461" y="402" fill="#bfc1c3"/><use href="#s2" x="557" y="402" fill="#dddfe1"/><use href="#s8" x="207" y="402" fill="#70848e"/><use href="#s5" x="516" y="402" fill="#304054"/><use href="#s15" x="283" y="402" fill="#66849a"/><use href="#s4" x="485" y="402" fill="#d2d4d6"/><use href="#s3" x="280" y="402" fill="#617f95"/><use href="#s14" x="516" y="402" fill="#d1d3d5"/><use href="#s11" x="260" y="402" fill="#344458"/><use href="#s7" x="236" y="403" fill="#dddfe1"/><use href="#s2" x="439" y="403" fill="#b4b6b8"/><use href="#s15" x="238" y="403" fill="#39495d"/><use href="#s7" x="172" y="403" fill="#5c7a90"/><use href="#s13" x="172" y="403" fill="#537187"/><use href="#s5" x="577" y="403" fill="#8397a1"/><use href="#s0" x="547" y="403" fill="#b8aa8c"/><use href="#s4" x="441" y="403" fill="#81959f"/><use href="#s8" x="378" y="403" fill="#d0d2d4"/><use href="#s2" x="115" y="403" fill="#bfb193"/><use href="#s13" x="381" y="403" fill="#c1c3c5"/><use href="#s3" x="512" y="403" fill="#d4d6d8"/><use href="#s11" x="573" y="404" fill="#b5a789"/><use href="#s3" x="432" y="404" fill="#c7c9cb"/><use href="#s6" x="500" y="404" fill="#d8dadc"/><use href="#s12" x="446" y="404" fill="#648298"/><use href="#s4" x="369" y="404" fill="#3e4e62"/><use href="#s2" x="111" y="404" fill="#bfb193"/><use href="#s9" x="553" y="404" fill="#446278"/><use href="#s11" x="312" y="404" fill="#bfc1c3"/><use href="#s6" x="552" y="405" fill="#4b697f"/><use href="#s14" x="505" y="405" fill="#4e6c82"/><use href="#s10" x="280" y="405" fill="#48667c"/><use href="#s2" x="165" y="405" fill="#5a788e"/><use href="#s15" x="475" y="405" fill="#4d6b81"/><use href="#s10" x="518" y="405" fill="#d2d4d6"/><use href="#s14" x="540" y="405" fill="#47657b"/><use href="#s12" x="316" y="405" fill="#768a94"/><use href="#s6" x="268" y="405" fill="#405064"/><use href="#s15" x="336" y="406" fill="#8599a3"/><use href="#s6" x="319" y="406" fill="#304054"/><use href="#s10" x="544" y="406" fill="#648298"/><use href="#s3" x="271" y="406" fill="#6e828c"/><use href="#s8" x="323" y="407" fill="#d4d6d8"/><use href="#s4" x="242" y="407" fill="#405064"/><use href="#s0" x="371" y="407" fill="#b1a385"/><use href="#s1" x="288" y="407" fill="#b9ab8d"/><use href="#s3" x="151" y="407" fill="#405064"/><use href="#s2" x="239" y="407" fill="#456379"/><use href="#s1" x="240" y="407" fill="#bcae90"/><use href="#s7" x="518" y="407" fill="#607e94"/><use href="#s4" x="235" y="407" fill="#344458"/><use href="#s14" x="503" y="407" fill="#516f85"/><use href="#s3" x="310" y="407" fill="#344458"/><use href="#s13" x="233" y="407" fill="#c0c2c4"/><use href="#s0" x="241" y="407" fill="#ced0d2"/><use href="#s12" x="553" y="407" fill="#bbbdbf"/><use href="#s8" x="459" y="407" fill="#c2c4c6"/><use href="#s4" x="379" y="407" fill="#c2c4c6"/><use href="#s0" x="151" y="407" fill="#d4d6d8"/><use href="#s5" x="568" y="407" fill="#c3b597"/><use href="#s14" x="475" y="408" fill="#b6a88a"/><use href="#s15" x="226" y="408" fill="#56748a"/><use href="#s10" x="116" y="408" fill="#d8dadc"/><use href="#s5" x="315" y="408" fill="#758993"/><use href="#s4" x="303" y="408" fill="#3d4d61"/><use href="#s3" x="443" y="408" fill="#58768c"/><use href="#s6" x="531" y="408" fill="#c4b698"/><use href="#s8" x="408" y="408" fill="#36465a"/><use href="#s11" x="264" y="408" fill="#6f838d"/><use href="#s5" x="129" y="408" fill="#537187"/><use href="#s6" x="382" y="408" fill="#cdcfd1"/><use href="#s10" x="475" y="409" fill="#c8ba9c"/><use href="#s7" x="289" y="409" fill="#557389"/><use href="#s7" x="365" y="409" fill="#2e3e52"/><use href="#s10" x="140" y="409" fill="#b8aa8c"/><use href="#s7" x="342" y="409" fill="#b5b7b9"/><use href="#s8" x="522" y="409" fill="#8296a0"/><use href="#s1" x="189" y="409" fill="#8599a3"/><use href="#s12" x="545" y="409" fill="#d0d2d4"/><use href="#s0" x="211" y="409" fill="#b0a284"/><use href="#s13" x="367" y="409" fill="#b8babc"/><use href="#s9" x="577" y="409" fill="#537187"/><use href="#s4" x="265" y="410" fill="#4f6d83"/><use href="#s5" x="304" y="410" fill="#344458"/><use href="#s11" x="570" y="410" fill="#768a94"/><use href="#s15" x="442" y="410" fill="#314155"/><use href="#s5" x="142" y="410" fill="#b4a688"/><use href="#s8" x="197" y="410" fill="#527086"/><use href="#s10" x="157" y="411" fill="#2d3d51"/><use href="#s1" x="303" y="411" fill="#d5d7d9"/><use href="#s10" x="201" y="411" fill="#c6b89a"/><use href="#s13" x="558" y="411" fill="#456379"/><use href="#s3" x="362" y="411" fill="#c6795f"/><use href="#s1" x="346" y="411" fill="#b1a385"/><use href="#s5" x="297" y="411" fill="#8498a2"/><use href="#s1" x="125" y="411" fill="#dadcde"/><use href="#s13" x="359" y="411" fill="#516f85"/><use href="#s6" x="240" y="411" fill="#2c3c50"/><use href="#s4" x="381" y="412" fill="#b4a688"/><use href="#s1" x="277" y="412" fill="#d0d2d4"/><use href="#s5" x="191" y="412" fill="#3d4d61"/><use href="#s15" x="439" y="412" fill="#5b798f"/><use href="#s2" x="271" y="412" fill="#36465a"/><use href="#s5" x="426" y="412" fill="#dcdee0"/><use href="#s9" x="348" y="412" fill="#4c6a80"/><use href="#s3" x="410" y="412" fill="#3f4f63"/><use href="#s5" x="453" y="412" fill="#304054"/><use href="#s2" x="373" y="413" fill="#80949e"/><use href="#s0" x="563" y="413" fill="#638197"/><use href="#s8" x="237" y="413" fill="#c2b496"/><use href="#s6" x="551" y="413" fill="#baac8e"/><use href="#s0" x="257" y="413" fill="#c7c9cb"/><use href="#s1" x="272" y="413" fill="#5d7b91"/><use href="#s3" x="227" y="413" fill="#304054"/><use href="#s9" x="140" y="413" fill="#2e3e52"/><use href="#s5" x="490" y="414" fill="#3f4f63"/><use href="#s2" x="320" y="414" fill="#dadcde"/><use href="#s12" x="387" y="414" fill="#d7d9db"/><use href="#s13" x="354" y="414" fill="#d8dadc"/><use href="#s8" x="310" y="414" fill="#344458"/><use href="#s6" x="455" y="414" fill="#446278"/><use href="#s7" x="149" y="414" fill="#c5c7c9"/><use href="#s0" x="163" y="414" fill="#405064"/><use href="#s11" x="521" y="414" fill="#d9dbdd"/><use href="#s0" x="383" y="414" fill="#cd7551"/><use href="#s11" x="335" y="414" fill="#516f85"/><use href="#s6" x="382" y="415" fill="#2e3e52"/><use href="#s1" x="506" y="415" fill="#c9cbcd"/><use href="#s7" x="316" y="415" fill="#4b697f"/><use href="#s5" x="317" y="415" fill="#6f838d"/><use href="#s10" x="127" y="416" fill="#658399"/><use href="#s10" x="558" y="416" fill="#638197"/><use href="#s3" x="135" y="416" fill="#c4c6c8"/><use href="#s4" x="285" y="416" fill="#b5a789"/><use href="#s11" x="577" y="416" fill="#d6d8da"/><rect x="100" y="300" width="490" height="116" fill="#fff" filter="url(#gtex)" opacity="0.3"/><rect x="100" y="294" width="480" height="42" fill="url(#gravfade)"/><g stroke="#655c57" stroke-linecap="round" fill="none"><path stroke-width="0.5" d="M410.9 204.0L409.3 210.0M441.8 198.8L441.5 202.5M449.9 199.1L453.0 203.5M437.3 205.4L435.3 209.7M435.3 209.7L433.4 213.9M444.5 174.7L451.8 177.5M441.2 179.1L445.4 185.4M445.4 185.4L449.6 191.8M432.1 176.1L434.7 181.3M434.7 181.3L436.2 186.8M456.2 189.6L459.8 195.8M450.8 185.0L453.7 187.5M453.7 187.5L456.3 190.4M456.3 190.4L458.9 193.2M455.3 189.0L459.3 194.2M459.3 194.2L461.9 196.5M461.9 196.5L463.8 199.4M463.8 199.4L464.9 202.7M467.6 185.9L471.4 189.0M463.7 183.0L464.3 185.7M464.3 185.7L464.9 188.4M464.9 188.4L465.6 191.2M446.9 234.0L447.3 241.1M452.5 208.2L454.1 217.0M455.2 212.3L457.8 216.5M457.8 216.5L459.5 221.1M456.1 234.2L460.9 241.2M460.9 241.2L464.1 249.1M464.1 249.1L468.0 252.9M468.0 252.9L470.4 257.8M470.4 257.8L472.3 263.0M485.8 213.1L486.3 219.8M486.3 219.8L487.8 226.4M487.2 215.0L491.5 221.5M485.4 214.4L488.0 220.3M488.0 220.3L489.8 226.4M478.7 209.8L481.6 215.7M478.7 209.8L477.7 212.9M477.7 212.9L477.5 216.1M477.5 216.1L477.6 219.3M479.3 213.7L479.1 217.7M479.1 217.7L478.2 221.5M467.7 205.7L471.0 210.8M471.0 210.8L471.8 214.7M471.8 214.7L472.7 218.6M472.7 218.6L473.7 222.5M471.0 210.8L473.9 212.7M473.9 212.7L476.0 215.5M476.0 215.5L477.9 218.4M482.5 230.0L483.4 238.1M485.1 242.2L486.7 246.4M486.7 246.4L488.3 250.7M483.0 221.8L481.2 227.0M481.2 227.0L479.9 232.4M479.9 232.4L478.9 237.8M455.3 248.2L454.1 255.2M454.1 255.2L454.1 262.2M456.6 270.5L458.1 279.1M458.1 279.1L460.0 287.6M472.4 235.5L469.1 242.4M469.1 242.4L466.3 249.6M466.3 249.6L464.7 257.1M464.7 257.1L464.1 264.7M464.1 264.7L462.9 272.4M462.9 272.4L462.8 280.2M462.8 280.2L462.9 288.0M462.9 272.4L462.4 276.7M462.4 276.7L461.5 280.9M461.5 280.9L460.4 285.1M462.9 272.4L461.3 277.5M461.3 277.5L460.7 282.7M460.7 282.7L460.8 288.0M474.8 228.2L476.0 236.4M476.0 236.4L475.5 244.7M475.5 244.7L475.7 252.9M475.7 252.9L476.9 261.1M476.0 236.4L474.4 242.4M474.4 242.4L474.4 248.6M474.4 248.6L475.0 254.8M476.9 261.1L480.9 267.3M480.9 267.3L483.8 274.2M483.8 274.2L486.4 281.1M474.9 249.0L471.5 255.1M471.5 255.1L469.6 262.0M469.6 262.0L467.4 268.7M469.6 262.0L464.6 268.5M464.6 268.5L459.4 274.8M459.4 274.8L455.7 282.1M467.4 268.7L468.2 275.3M468.2 275.3L469.0 282.0M469.0 282.0L469.5 288.7M483.3 242.5L478.7 248.2M478.7 248.2L475.3 254.8M475.3 254.8L472.1 261.4M472.1 261.4L468.5 267.9M468.5 267.9L464.5 274.1M464.5 274.1L460.2 280.0M460.2 280.0L456.9 286.6M456.9 286.6L454.6 293.6M460.2 280.0L455.4 285.8M455.4 285.8L450.2 291.3M468.5 267.9L462.1 274.3M462.1 274.3L455.2 280.2M455.2 280.2L448.8 286.7M429.4 185.3L436.7 186.4M425.9 188.0L428.5 192.5M428.5 192.5L429.7 197.4M403.3 203.2L402.9 210.0M403.3 203.2L401.7 206.8M401.7 206.8L400.8 210.7M400.8 210.7L399.8 214.5M405.3 200.6L406.5 205.0M406.5 205.0L407.6 209.5M406.7 224.6L407.4 232.4M407.4 232.4L409.0 239.9M406.7 224.6L405.1 233.4M405.1 233.4L404.5 242.2M404.5 242.2L402.8 250.9M406.7 224.6L410.1 232.7M410.1 232.7L414.0 240.6M414.0 240.6L415.8 249.2M423.2 231.9L425.7 239.8M425.7 239.8L425.4 244.0M425.4 244.0L424.6 248.1M424.6 248.1L424.3 252.3M423.2 231.9L420.7 237.5M420.7 237.5L418.7 243.2M418.7 243.2L417.1 249.1M445.7 222.7L448.8 228.1M443.9 222.1L446.9 225.4M446.9 225.4L448.9 229.4M443.8 220.7L445.6 223.5M445.6 223.5L446.9 226.7M434.3 206.8L441.9 210.8M445.7 212.3L448.5 215.2M448.5 215.2L450.2 218.9M450.2 218.9L450.1 221.0M450.1 221.0L449.8 223.0M449.8 223.0L449.5 225.1M427.5 254.9L429.8 262.0M434.3 261.3L439.1 269.2M439.1 269.2L444.6 276.7M439.1 269.2L444.3 273.0M444.3 273.0L447.8 278.4M447.8 278.4L451.0 283.9M444.6 276.7L450.2 280.8M450.2 280.8L455.4 285.3M451.5 244.3L454.9 251.5M454.9 251.5L459.0 258.4M459.0 258.4L461.4 266.0M444.7 229.8L443.5 237.3M443.5 237.3L441.4 244.6M441.4 244.6L440.4 252.2M440.4 252.2L440.6 259.8M440.6 259.8L441.4 267.4M441.4 244.6L444.5 252.0M444.5 252.0L447.6 259.4M447.6 259.4L448.6 267.4M448.1 237.0L447.7 244.1M447.7 244.1L447.7 251.2M447.7 251.2L449.1 258.2M449.1 258.2L450.5 265.2M447.7 251.2L446.2 255.6M446.2 255.6L444.3 259.9M444.3 259.9L443.0 264.4M450.5 265.2L453.1 270.0M453.1 270.0L454.8 275.2M454.8 275.2L455.2 280.7M459.2 263.9L459.5 271.4M459.5 271.4L459.8 278.9M458.3 279.9L455.6 288.0M455.6 288.0L454.0 296.4M454.0 296.4L454.1 305.0M456.8 261.1L456.1 268.1M456.1 268.1L454.4 275.0M454.4 275.0L453.5 282.0M453.5 282.0L453.2 289.0M453.2 289.0L453.7 296.1M454.4 275.0L453.5 282.8M453.5 282.8L452.8 290.6M453.7 296.1L451.8 301.6M388.0 197.0L390.9 201.1M390.9 201.1L393.2 205.6M385.0 213.3L385.1 220.5M385.9 206.1L385.3 210.9M385.3 210.9L383.9 215.5M383.9 215.5L383.1 220.2M385.1 220.5L387.7 224.5M387.7 224.5L389.4 228.9M389.4 228.9L390.7 233.5M407.7 225.3L411.1 231.9M389.1 210.4L388.5 218.5M388.5 218.5L386.6 226.4M386.6 226.4L383.4 233.8M383.4 233.8L383.3 240.2M383.3 240.2L384.4 246.5M384.4 246.5L384.9 252.9M388.5 218.5L384.2 221.8M384.2 221.8L380.1 225.4M380.1 225.4L376.3 229.4M407.1 255.9L407.3 262.9M407.3 262.9L406.8 269.9M407.3 262.9L408.9 271.2M408.9 271.2L410.5 279.5M410.5 279.5L412.2 287.8M412.2 287.8L412.6 296.2M412.2 287.8L409.8 294.5M409.8 294.5L407.0 301.1M407.0 301.1L404.3 307.8M401.7 249.6L398.9 256.7M398.9 256.7L395.6 263.7M395.6 263.7L391.9 270.4M395.6 263.7L392.8 267.6M392.8 267.6L390.1 271.7M390.1 271.7L387.3 275.7M402.3 239.3L407.6 245.6M407.6 245.6L410.8 253.1M410.8 253.1L412.3 261.2M412.3 261.2L413.4 269.4M413.4 269.4L416.4 275.6M416.4 275.6L418.7 282.2M418.7 282.2L420.6 288.9M416.4 275.6L419.2 278.7M419.2 278.7L421.8 282.0M421.8 282.0L423.9 285.6M413.4 269.4L412.0 276.3M412.0 276.3L411.1 283.3M411.1 283.3L410.1 290.2M411.1 283.3L413.1 288.1M411.6 264.0L417.3 269.4M417.3 269.4L421.1 276.4M421.1 276.4L424.2 283.6M417.3 269.4L424.4 273.5M424.4 273.5L429.3 280.0M429.3 280.0L432.1 287.7M429.3 280.0L429.1 284.0M429.1 284.0L429.3 288.1M429.3 288.1L429.3 292.1M401.0 269.1L401.9 276.6M401.9 276.6L401.3 284.1M401.3 284.1L401.7 291.6M401.9 276.6L398.7 283.2M401.3 284.1L405.4 288.9M403.4 272.3L407.4 278.7M407.4 278.7L411.5 285.1M411.5 285.1L417.1 289.7M417.1 289.7L421.0 295.9M421.0 295.9L423.9 302.5M406.6 293.1L405.6 301.0M332.3 216.5L326.8 220.1M326.1 223.2L325.1 226.2M325.1 226.2L324.8 229.3M323.9 223.9L321.3 227.9M321.3 227.9L319.2 232.2M373.0 226.6L376.8 234.2M373.0 226.6L372.6 231.3M372.6 231.3L371.5 235.9M371.5 235.9L370.0 240.4M373.0 226.6L376.6 230.3M376.6 230.3L380.4 233.9M380.4 233.9L384.2 237.5M370.5 221.8L374.8 230.0M365.7 220.2L365.3 225.9M365.3 225.9L364.0 231.5M343.8 240.2L343.1 248.4M337.9 244.8L336.8 252.1M337.9 244.8L339.5 249.7M339.5 249.7L339.8 254.9M339.8 254.9L339.7 260.0M336.8 252.1L333.6 255.3M333.6 255.3L331.1 258.9M331.1 258.9L328.6 262.6M366.2 264.4L367.6 271.8M356.2 241.7L356.3 248.8M356.3 248.8L355.4 255.8M356.3 248.8L359.2 252.6M359.2 252.6L362.1 256.5M362.1 256.5L364.2 260.8M356.3 248.8L352.8 253.9M352.8 253.9L350.3 259.5M350.3 259.5L348.4 265.4M362.2 270.8L362.3 277.8M362.3 277.8L363.3 284.8M363.3 284.8L363.6 291.9M362.3 277.8L358.6 283.9M358.6 283.9L355.9 290.6M335.7 266.5L334.2 273.4M334.2 273.4L332.8 280.3M337.6 280.0L341.1 286.4M337.6 280.0L339.3 287.6M349.2 235.0L345.8 241.5M345.8 241.5L343.8 248.6M343.8 248.6L343.7 255.9M343.7 255.9L342.4 263.2M343.7 255.9L340.1 262.2M340.1 262.2L337.4 268.9M337.4 268.9L334.6 275.6M343.8 248.6L345.2 253.9M345.2 253.9L346.2 259.2M346.2 259.2L347.8 264.4M345.2 252.3L343.0 259.4M343.0 259.4L341.3 266.6M341.3 266.6L338.9 273.6M345.2 252.3L341.2 259.5M341.2 259.5L336.7 266.4M336.7 266.4L333.1 273.8M336.7 266.4L337.0 272.5M337.0 272.5L337.2 278.7M337.2 278.7L337.5 284.8M347.9 267.2L350.8 274.3M350.8 274.3L352.9 281.8M352.9 281.8L355.9 288.9M355.9 288.9L358.5 296.2M358.5 296.2L361.1 303.4M352.9 281.8L357.7 285.6M357.7 285.6L362.2 289.8M362.2 289.8L365.4 295.0M347.0 275.4L351.5 283.0M351.5 283.0L355.9 290.6M351.5 283.0L356.4 286.2M356.4 286.2L360.9 289.9M360.9 289.9L365.8 293.2M355.9 290.6L355.6 296.2M355.6 296.2L354.3 301.6M338.5 245.7L337.3 252.7M335.6 235.8L333.4 240.4M333.4 240.4L331.4 245.2M348.7 265.5L347.6 273.5M351.7 271.8L354.7 278.2M354.7 278.2L357.3 284.7M347.5 254.3L344.5 259.3M344.5 259.3L342.5 264.7M338.4 241.1L339.8 248.7M339.8 248.7L342.4 256.0M344.5 253.5L348.4 259.0M348.4 259.0L352.7 264.1M352.7 264.1L355.5 265.9M355.5 265.9L357.3 268.6M357.3 268.6L358.7 271.6M348.4 259.0L352.0 261.8M352.0 261.8L355.6 264.6M355.6 264.6L358.6 268.1M339.9 231.3L344.2 237.0M344.2 237.0L347.1 243.4M347.1 243.4L349.1 250.1M339.9 231.3L344.5 235.7M344.5 235.7L348.0 240.9M348.0 240.9L351.8 246.0M349.1 250.1L353.6 253.5M353.6 253.5L356.6 258.2M356.6 258.2L358.3 263.6M336.2 244.9L339.8 252.9M336.2 244.9L340.8 248.0M340.8 248.0L344.0 252.5M344.0 252.5L346.3 257.6M340.8 248.0L343.0 251.0M343.0 251.0L344.8 254.2M344.8 254.2L346.3 257.6M333.3 236.7L332.6 242.1M332.6 242.1L331.3 247.4M331.3 247.4L329.4 252.5M332.6 242.1L330.2 244.6M330.2 244.6L328.1 247.3M328.1 247.3L326.1 250.2M305.9 265.9L304.0 272.7M304.0 272.7L301.5 279.3M301.0 274.4L298.8 282.6M298.8 282.6L296.9 290.8M304.9 266.9L305.4 272.2M305.4 272.2L305.9 277.6M305.9 277.6L305.8 282.9M304.9 266.9L305.3 273.5M305.3 273.5L306.5 280.0M306.5 280.0L307.9 286.4M314.2 263.2L315.8 271.9M315.8 271.9L317.6 280.5M317.6 280.5L316.7 286.1M307.1 276.5L304.4 283.8M310.7 269.6L310.7 276.3M310.7 276.3L311.1 282.9M311.1 282.9L311.8 289.6M311.8 289.6L311.6 293.8M311.6 293.8L311.2 298.0M312.4 276.6L313.6 283.8M313.6 283.8L315.3 290.8M315.3 290.8L315.8 298.1M315.3 290.8L318.9 296.7M318.9 296.7L321.8 302.9M321.8 302.9L323.3 309.6M312.4 276.6L316.5 282.3M316.5 282.3L319.7 288.6M319.7 288.6L320.9 295.4M318.6 267.9L315.5 274.7M315.5 274.7L312.2 281.4M312.2 281.4L308.7 288.0M308.7 288.0L306.3 295.1M306.3 295.1L304.9 302.5M304.9 302.5L303.8 309.9M312.2 281.4L307.4 286.6M307.4 286.6L304.4 293.0M304.4 293.0L301.0 299.2M311.9 281.5L306.9 287.4M306.9 287.4L301.3 292.8M301.3 292.8L295.1 297.4M306.9 287.4L306.3 294.1M306.3 294.1L306.0 300.9M313.0 291.3L315.8 299.0M312.1 297.4L314.4 305.1M323.7 214.2L322.4 221.9M311.4 240.9L308.7 247.6M307.6 246.4L305.3 252.7M305.3 252.7L302.9 259.0M314.3 234.1L313.4 240.4M313.4 240.4L312.5 246.6M312.5 246.6L310.9 252.8M316.1 226.9L313.6 233.9M313.6 233.9L313.3 237.5M313.3 237.5L313.1 241.2M313.1 241.2L312.6 244.8M296.3 218.9L292.9 225.4M301.5 217.1L301.4 220.6M301.4 220.6L300.9 224.1M296.3 218.9L296.6 223.2M296.6 223.2L296.6 227.5M296.6 227.5L296.2 231.8M320.0 203.1L321.1 210.5M321.1 210.5L319.6 213.8M319.6 213.8L318.7 217.4M318.7 217.4L318.4 221.1M291.5 217.8L288.8 225.2M286.8 222.2L282.3 227.0M282.3 227.0L278.1 232.0M286.8 222.2L285.7 226.1M285.7 226.1L285.2 230.1M285.2 230.1L284.5 234.1M278.1 232.0L274.5 235.1M274.5 235.1L271.4 238.6M271.4 238.6L268.6 242.4M294.1 224.2L297.4 230.4M297.4 230.4L299.7 236.9M294.1 224.2L293.7 227.8M293.7 227.8L293.9 231.5M293.9 231.5L293.4 235.1M304.7 254.0L302.8 261.7M301.6 262.5L299.8 271.5M299.8 271.5L299.0 280.6M301.6 262.5L303.7 268.4M303.7 268.4L305.8 274.3M305.8 274.3L307.3 280.3M304.0 245.4L300.0 252.2M300.0 252.2L295.7 258.9M304.0 245.4L304.4 250.4M304.4 250.4L305.6 255.2M305.6 255.2L306.2 260.1M300.0 252.2L299.6 256.0M299.6 256.0L299.7 259.8M299.7 259.8L300.0 263.6M304.1 252.2L307.0 258.9M307.0 258.9L308.3 266.1M308.3 266.1L309.5 273.3M305.8 244.9L311.2 251.7M311.2 251.7L315.1 259.5M311.2 251.7L315.5 255.2M315.5 255.2L318.8 259.7M318.8 259.7L321.8 264.3M303.0 267.0L303.8 274.0M303.8 274.0L304.9 280.9M304.9 280.9L307.0 287.6M300.1 253.3L305.7 260.4M305.7 260.4L311.1 267.7M311.1 267.7L313.9 276.4M311.1 267.7L314.7 272.8M314.7 272.8L318.2 277.9M318.2 277.9L320.7 283.6M306.7 206.7L304.9 209.3M306.2 208.5L304.0 211.7M274.7 217.3L274.4 224.5M274.4 224.5L273.9 231.7M276.3 210.3L274.3 215.4M274.3 215.4L272.2 220.5M272.2 220.5L270.4 225.7M276.3 210.3L280.0 218.0M280.0 218.0L283.1 226.0M283.1 226.0L286.5 233.9M267.2 226.2L264.0 234.6M264.0 234.6L265.1 239.3M265.1 239.3L265.7 244.2M265.7 244.2L265.9 249.0M267.2 226.2L267.3 232.3M267.3 232.3L267.7 238.4M267.7 238.4L267.0 244.5M233.9 224.9L230.9 231.2M230.9 231.2L227.5 237.4M241.3 213.1L241.0 220.2M241.0 220.2L240.1 227.2M240.1 227.2L238.5 234.2M238.5 234.2L236.9 241.1M275.7 237.4L277.1 244.4M269.3 219.9L269.8 228.4M269.3 219.9L270.9 223.9M270.9 223.9L271.3 228.1M271.3 228.1L271.9 232.4M267.5 252.4L268.6 259.6M258.9 239.5L255.0 247.8M258.2 235.9L255.6 242.2M255.6 242.2L254.5 248.9M258.9 239.5L256.1 242.7M256.1 242.7L253.7 246.2M253.7 246.2L252.2 250.2M280.0 271.0L284.1 278.0M284.1 278.0L287.2 285.4M287.2 285.4L290.4 292.9M278.8 271.1L282.1 277.8M282.1 277.8L283.5 285.1M283.5 285.1L283.7 292.5M274.5 265.1L280.1 270.2M280.1 270.2L283.8 276.6M283.8 276.6L285.4 283.9M285.4 283.9L285.6 291.4M235.5 264.0L233.5 272.6M239.1 255.9L235.6 260.7M235.6 260.7L233.5 266.3M233.5 266.3L231.1 271.8M234.1 234.8L230.0 241.2M246.9 262.8L249.6 270.1M249.6 270.1L251.0 277.8M241.6 254.7L239.2 262.0M239.2 262.0L238.6 269.8M238.6 269.8L238.1 277.5M241.6 254.7L245.3 261.0M245.3 261.0L247.2 268.0M247.2 268.0L249.5 274.9M346.4 239.4L350.0 246.3M350.0 246.3L352.6 253.7M352.6 253.7L355.7 260.9M355.7 260.9L357.0 268.6M359.3 267.4L363.4 273.6M363.4 273.6L365.5 280.7M365.5 280.7L366.9 288.0M366.9 288.0L367.8 295.3M365.5 280.7L364.7 287.1M364.7 287.1L364.6 293.7M364.6 293.7L363.4 300.1M340.2 235.5L342.1 244.5M342.1 244.5L342.2 253.7M340.2 235.5L341.0 240.6M341.0 240.6L340.9 245.9M340.9 245.9L340.0 251.0M340.9 245.9L339.2 247.6M339.2 247.6L337.7 249.4M337.7 249.4L336.4 251.5M341.0 240.6L342.3 243.8M342.3 243.8L343.9 246.8M343.9 246.8L344.6 250.0M342.2 253.7L339.8 257.6M339.8 257.6L338.5 262.0M338.5 262.0L336.9 266.3M339.8 257.6L340.3 260.7M340.3 260.7L340.9 263.8M340.9 263.8L341.9 266.7M334.3 250.0L333.2 257.3M333.2 257.3L333.6 264.7M333.6 264.7L335.0 272.0M335.0 272.0L336.9 279.1M333.6 264.7L339.8 271.4M339.8 271.4L344.8 279.1M344.8 279.1L347.7 287.7M333.6 264.7L337.2 272.6M337.2 272.6L340.5 280.6M340.5 280.6L344.6 288.3M340.5 280.6L341.5 284.4M341.5 284.4L342.3 288.3M342.3 288.3L342.6 292.2M340.5 280.6L344.7 283.1M344.7 283.1L348.0 286.7M348.0 286.7L350.0 291.1M333.1 253.1L327.4 257.6M327.4 257.6L323.1 263.4M323.1 263.4L319.5 269.7M319.5 269.7L316.4 276.3M316.4 276.3L312.6 282.4M312.6 282.4L313.0 291.0M313.0 291.0L311.7 299.4M311.7 299.4L309.8 307.8M330.7 261.7L332.8 269.0M332.8 269.0L335.3 276.3M335.3 276.3L337.2 283.6M337.2 283.6L339.6 290.9M339.6 290.9L341.9 298.2M329.6 271.7L324.9 277.5M324.9 277.5L320.0 283.2M320.0 283.2L316.9 290.0M316.9 290.0L314.2 297.0M314.2 297.0L310.9 303.7M328.2 283.7L331.1 290.2M331.1 290.2L333.4 296.9M384.7 217.4L387.9 224.7M387.9 224.7L390.6 232.2M390.6 232.2L393.3 239.6M387.2 214.7L392.8 219.4M392.8 219.4L397.2 225.3M397.2 225.3L401.4 231.3M401.4 231.3L404.7 237.8M392.8 219.4L399.4 225.0M399.4 225.0L404.7 231.7M404.7 231.7L408.3 239.6M373.9 196.1L380.4 200.5M380.4 200.5L386.6 205.2M386.6 205.2L390.8 211.8M390.8 211.8L393.5 219.1M393.5 219.1L396.4 226.4M380.4 200.5L385.8 205.2M385.8 205.2L390.5 210.8M390.5 210.8L394.3 216.9M394.3 216.9L397.2 223.6M369.3 247.2L371.7 254.5M374.1 223.4L378.2 230.0M378.2 230.0L382.4 236.6M382.4 236.6L382.8 240.5M382.8 240.5L383.4 244.4M383.4 244.4L384.2 248.3M374.1 223.4L377.1 226.3M377.1 226.3L379.7 229.7M379.7 229.7L381.2 233.7M368.0 224.3L372.7 230.6M372.7 230.6L376.7 237.3M376.7 237.3L379.3 244.8M372.7 230.6L375.3 234.8M375.3 234.8L377.2 239.5M377.2 239.5L378.6 244.3M379.3 244.8L380.0 250.3M380.0 250.3L380.1 255.8M380.1 255.8L381.1 261.3M377.9 248.3L379.2 255.2M379.2 255.2L380.7 262.2M380.7 262.2L381.0 269.3M381.0 269.3L380.6 276.4M376.8 234.1L378.6 242.7M378.6 242.7L379.3 251.4M379.3 251.4L380.2 260.1M380.2 260.1L381.9 268.7M380.2 260.1L378.0 265.6M378.0 265.6L376.4 271.3M376.4 271.3L374.4 277.0M377.9 248.3L374.4 256.1M374.4 256.1L372.4 264.3M372.4 264.3L372.4 272.9M372.4 264.3L375.7 269.3M375.7 269.3L378.4 274.6M378.4 274.6L380.8 280.0M373.2 251.6L376.9 257.8M376.9 257.8L380.3 264.2M380.3 264.2L382.2 271.1M382.2 271.1L384.8 277.8M384.8 277.8L386.8 284.8M386.8 284.8L389.0 291.7M380.3 264.2L376.0 271.2M376.0 271.2L372.3 278.6M372.3 278.6L370.7 286.7M372.3 278.6L369.3 283.4M369.3 283.4L367.6 288.8M372.3 278.6L369.3 283.0M369.3 283.0L366.8 287.7M366.8 287.7L365.4 292.8M380.3 264.2L382.3 271.6M382.3 271.6L383.4 279.3M383.4 279.3L384.0 287.0M384.0 287.0L384.6 294.7M384.0 287.0L385.4 293.8M372.5 263.7L367.1 271.2M367.1 271.2L360.9 278.0M360.9 278.0L355.3 285.4M355.3 285.4L355.9 290.6M355.9 290.6L357.4 295.6M357.4 295.6L358.3 300.7M441.2 202.6L447.0 207.8M438.5 219.3L440.2 226.4M440.2 226.4L441.3 233.5M436.0 205.0L438.9 211.0M438.9 211.0L441.4 217.0M441.4 217.0L442.3 223.5M436.0 205.0L433.6 212.8M433.6 212.8L431.1 220.5M431.1 220.5L429.1 228.3M407.6 212.2L407.0 219.7M406.2 209.0L404.9 213.9M404.9 213.9L403.1 218.6M403.1 218.6L401.5 221.1M401.5 221.1L400.3 223.7M400.3 223.7L399.2 226.4M406.5 201.6L404.9 206.8M404.9 206.8L404.2 212.2M406.5 201.6L405.4 203.8M405.4 203.8L404.2 206.1M404.2 206.1L403.0 208.4M427.9 205.9L434.1 209.9M434.1 209.9L439.6 214.9M439.6 214.9L445.5 219.4M445.5 219.4L451.6 223.6M451.6 223.6L457.8 227.5M457.8 227.5L463.4 232.3M463.4 232.3L468.1 238.0M457.8 227.5L466.3 229.0M466.3 229.0L473.5 233.7M473.5 233.7L478.7 240.5M478.7 240.5L482.5 248.2M444.0 213.8L451.1 215.6M451.1 215.6L458.0 218.4M458.0 218.4L464.9 220.9M464.9 220.9L472.0 222.9M458.0 218.4L465.3 218.9M465.3 218.9L472.1 221.4M472.1 221.4L477.7 226.1M472.1 221.4L476.3 223.9M476.3 223.9L479.3 227.8M479.3 227.8L481.6 232.1M477.7 226.1L477.5 230.1M477.5 230.1L476.8 234.1M476.8 234.1L475.3 237.9M441.3 224.4L445.1 230.6M445.1 230.6L447.9 237.3M447.9 237.3L451.5 243.6M447.9 237.3L451.1 241.2M451.1 241.2L453.8 245.6M453.8 245.6L456.0 250.2M453.8 245.6L453.3 249.3M453.3 249.3L453.4 253.0M453.4 253.0L453.2 256.8M441.3 224.4L445.8 227.9M445.8 227.9L448.9 232.7M448.9 232.7L452.1 237.5M452.1 237.5L454.8 240.4M454.8 240.4L457.4 243.5M457.4 243.5L458.9 247.2M467.1 245.1L467.7 253.0M467.7 253.0L467.6 260.9M467.6 260.9L467.6 268.8M467.6 268.8L467.5 276.7M467.5 276.7L468.5 284.6"/><path stroke-width="1" d="M427.9 174.4L432.5 180.9M419.2 185.6L417.7 193.7M417.7 193.7L414.1 198.8M414.1 198.8L410.9 204.0M433.7 179.2L438.7 184.9M438.7 184.9L442.5 191.4M442.5 191.4L442.1 195.1M442.1 195.1L441.8 198.8M442.5 191.4L446.4 195.0M446.4 195.0L449.9 199.1M428.1 173.7L434.0 178.7M434.0 178.7L440.2 183.4M440.2 183.4L445.9 188.6M436.4 186.0L437.8 193.5M437.8 193.5L439.0 201.1M439.0 201.1L437.3 205.4M421.7 169.4L429.3 171.1M429.3 171.1L436.9 172.9M436.9 172.9L444.5 174.7M436.9 172.9L441.2 179.1M429.3 171.1L432.1 176.1M445.5 180.3L452.6 183.5M452.6 183.5L458.1 188.9M445.5 180.3L450.8 185.0M450.8 185.0L456.2 189.6M445.5 180.3L450.7 184.2M450.7 184.2L455.3 189.0M451.7 180.1L459.0 181.9M459.0 181.9L465.3 185.8M459.0 181.9L463.7 183.0M463.7 183.0L467.6 185.9M447.3 198.6L447.0 205.7M447.0 205.7L447.1 212.7M447.1 212.7L447.0 219.8M447.0 219.8L446.9 226.9M446.9 226.9L446.9 234.0M446.1 191.6L448.9 200.0M448.9 200.0L452.5 208.2M452.5 208.2L455.2 212.3M447.0 219.8L451.7 227.0M451.7 227.0L456.1 234.2M465.4 192.6L471.7 197.5M471.7 197.5L477.2 203.2M477.2 203.2L481.8 209.8M481.8 209.8L487.2 215.7M477.2 203.2L484.8 206.4M484.8 206.4L490.8 212.0M484.8 206.4L490.8 209.1M484.8 206.4L485.8 213.1M471.7 197.5L477.7 202.5M477.7 202.5L482.2 208.9M482.2 208.9L487.2 215.0M482.2 208.9L485.4 214.4M471.5 198.8L479.5 203.1M471.5 198.8L475.0 204.3M475.0 204.3L478.7 209.8M478.7 209.8L479.3 213.7M463.5 194.5L465.2 200.3M465.2 200.3L467.7 205.7M477.6 208.1L483.2 213.6M483.2 213.6L488.0 219.8M488.0 219.8L491.2 227.0M483.2 213.6L483.0 221.8M483.0 221.8L482.5 230.0M483.4 238.1L485.1 242.2M471.1 209.5L470.0 216.4M470.0 216.4L468.0 223.2M468.0 223.2L465.3 229.7M465.3 229.7L462.0 235.9M462.0 235.9L458.1 241.8M458.1 241.8L455.3 248.2M454.1 262.2L456.6 270.5M477.0 220.9L474.8 228.2M474.8 228.2L472.4 235.5M482.9 237.4L478.0 242.6M478.0 242.6L474.9 249.0M400.9 178.2L407.6 181.7M407.6 181.7L414.6 184.7M414.6 184.7L422.0 184.7M422.0 184.7L429.4 185.3M422.0 184.7L425.9 188.0M408.5 196.4L411.6 203.9M411.6 203.9L412.9 212.0M404.1 189.5L403.6 196.3M403.6 196.3L403.3 203.2M403.6 196.3L405.3 200.6M415.6 217.3L417.8 224.6M417.8 224.6L419.2 232.1M419.2 232.1L419.2 239.7M412.3 202.4L409.0 209.4M409.0 209.4L406.9 216.9M406.9 216.9L406.7 224.6M415.6 217.3L419.9 224.4M419.9 224.4L423.2 231.9M424.6 203.9L430.4 209.4M430.4 209.4L435.9 215.2M435.9 215.2L440.9 218.8M440.9 218.8L445.7 222.7M440.9 218.8L443.9 222.1M440.9 218.8L443.8 220.7M418.6 199.4L426.5 202.9M426.5 202.9L434.3 206.8M441.9 210.8L445.7 212.3M429.1 210.9L427.9 218.2M427.9 218.2L425.9 225.4M425.9 225.4L425.7 232.8M425.7 232.8L425.5 240.2M425.5 240.2L426.5 247.6M426.5 247.6L427.5 254.9M427.5 254.9L434.3 261.3M434.5 217.6L440.3 223.1M440.3 223.1L444.7 229.8M444.7 229.8L448.1 237.0M448.1 237.0L451.5 244.3M443.5 230.6L448.3 236.3M448.3 236.3L452.3 242.6M452.3 242.6L455.2 249.5M455.2 249.5L457.6 256.6M457.6 256.6L459.2 263.9M459.5 271.4L458.3 279.9M459.8 278.9L455.4 286.4M406.6 293.1L408.0 300.0M384.7 192.4L387.6 199.1M387.6 199.1L389.5 206.1M389.5 206.1L392.2 212.8M379.9 187.1L384.3 193.6M384.3 193.6L387.8 200.7M387.8 200.7L390.8 208.0M384.3 193.6L388.0 197.0M387.6 199.1L385.9 206.1M385.9 206.1L385.0 213.3M383.2 198.4L389.5 202.3M389.5 202.3L395.4 206.9M395.4 206.9L400.4 212.4M400.4 212.4L403.6 219.1M403.6 219.1L407.7 225.3M389.5 202.3L389.1 210.4M393.4 224.6L398.5 229.4M398.5 229.4L401.9 235.6M401.9 235.6L403.9 242.3M403.9 242.3L405.4 249.1M405.4 249.1L407.1 255.9M403.9 242.3L401.7 249.6M395.9 234.1L402.3 239.3M400.5 252.7L406.1 258.3M406.1 258.3L411.6 264.0M401.7 261.7L401.0 269.1M342.2 297.9L341.0 302.0M343.7 210.0L341.2 218.0M341.2 218.0L338.7 225.9M343.7 210.0L338.0 213.3M338.0 213.3L332.3 216.5M326.8 220.1L326.1 223.2M326.8 220.1L323.9 223.9M360.6 214.6L362.6 222.0M362.6 222.0L365.2 229.1M365.2 229.1L366.9 236.4M366.9 236.4L368.6 243.8M360.6 214.6L367.0 220.3M367.0 220.3L373.0 226.6M359.5 207.1L365.0 214.4M365.0 214.4L370.5 221.8M365.0 214.4L365.7 220.2M356.7 210.1L352.2 217.0M352.2 217.0L348.6 224.5M348.6 224.5L345.1 232.0M345.1 232.0L343.8 240.2M345.1 232.0L340.7 237.9M340.7 237.9L337.9 244.8M360.7 235.0L361.8 242.4M361.8 242.4L363.3 249.7M363.3 249.7L365.0 257.0M365.0 257.0L366.2 264.4M358.6 227.8L357.1 234.7M357.1 234.7L356.2 241.7M365.0 257.0L362.8 263.7M362.8 263.7L362.2 270.8M354.7 230.6L349.2 235.0M349.2 235.0L345.0 240.6M345.0 240.6L341.1 246.5M341.1 246.5L337.7 252.7M337.7 252.7L336.0 259.5M336.0 259.5L335.7 266.5M334.2 273.4L337.6 280.0M352.6 239.6L349.1 246.1M349.1 246.1L345.2 252.3M312.1 297.4L311.0 302.0M340.2 217.2L340.2 224.7M340.2 224.7L341.3 232.1M341.3 232.1L342.1 239.5M342.1 239.5L344.4 246.6M340.2 224.7L338.7 231.6M338.7 231.6L338.4 238.6M338.4 238.6L338.5 245.7M338.7 231.6L335.6 235.8M348.0 211.6L351.2 218.6M351.2 218.6L352.5 226.2M352.5 226.2L352.5 233.9M352.5 233.9L352.5 241.5M352.5 241.5L350.7 249.4M350.7 249.4L349.9 257.5M349.9 257.5L348.7 265.5M348.7 265.5L351.7 271.8M350.7 249.4L347.5 254.3M334.5 218.1L335.5 225.9M335.5 225.9L337.7 233.3M337.7 233.3L338.4 241.1M339.8 248.7L344.5 253.5M335.5 225.9L339.9 231.3M329.9 228.6L333.3 236.7M333.3 236.7L336.2 244.9M327.4 237.9L323.1 243.5M323.1 243.5L318.5 249.0M318.5 249.0L314.0 254.4M314.0 254.4L309.2 259.6M309.2 259.6L305.9 265.9M309.2 259.6L304.9 266.9M304.9 266.9L301.0 274.4M314.0 254.4L314.2 263.2M320.9 257.9L315.6 263.5M315.6 263.5L310.7 269.6M310.7 269.6L307.1 276.5M310.7 269.6L312.4 276.6M316.8 275.5L311.9 281.5M329.7 183.7L327.9 191.2M327.9 191.2L326.5 198.9M326.5 198.9L324.9 206.5M324.9 206.5L323.7 214.2M322.4 221.9L318.2 227.9M318.2 227.9L314.3 234.1M314.3 234.1L311.4 240.9M311.4 240.9L307.6 246.4M323.7 214.2L319.4 220.3M319.4 220.3L316.1 226.9M314.1 194.2L310.0 201.1M310.0 201.1L306.9 208.5M306.9 208.5L301.6 213.6M301.6 213.6L296.3 218.9M301.6 213.6L301.5 217.1M319.2 188.0L319.2 195.6M319.2 195.6L320.0 203.1M316.3 199.0L309.2 202.6M309.2 202.6L302.1 206.1M302.1 206.1L296.1 211.3M296.1 211.3L291.5 217.8M291.5 217.8L286.8 222.2M291.5 217.8L294.1 224.2M303.1 222.9L306.2 230.3M306.2 230.3L307.4 238.2M307.4 238.2L306.8 246.2M306.8 246.2L304.7 254.0M304.7 254.0L301.6 262.5M307.4 238.2L304.0 245.4M299.6 230.9L300.2 238.2M300.2 238.2L301.7 245.3M301.7 245.3L304.1 252.2M300.2 238.2L305.8 244.9M296.6 239.8L299.1 246.4M299.1 246.4L300.1 253.3M300.1 253.3L302.3 260.0M302.3 260.0L303.0 267.0M314.3 198.7L311.7 203.3M311.7 203.3L308.8 207.6M311.7 203.3L308.8 204.5M308.8 204.5L306.7 206.7M311.7 203.3L308.4 205.3M308.4 205.3L306.2 208.5M280.2 189.7L277.1 196.0M277.1 196.0L275.5 202.8M275.5 202.8L273.9 209.7M273.9 209.7L272.7 216.6M277.1 196.0L276.7 203.1M276.7 203.1L276.3 210.3M276.3 210.3L274.7 217.3M273.9 209.7L270.8 218.1M270.8 218.1L267.2 226.2M248.1 210.9L243.7 216.7M243.7 216.7L239.4 222.5M239.4 222.5L234.6 227.9M253.0 205.6L246.5 208.4M246.5 208.4L241.3 213.1M241.3 213.1L236.9 218.6M236.9 218.6L233.9 224.9M270.3 202.9L269.8 209.9M269.8 209.9L270.4 216.9M270.4 216.9L271.6 223.9M271.6 223.9L273.8 230.6M273.8 230.6L275.7 237.4M270.3 202.9L269.9 211.4M269.9 211.4L269.3 219.9M266.5 215.8L267.5 223.1M267.5 223.1L267.7 230.4M267.7 230.4L267.3 237.7M267.3 237.7L267.2 245.0M267.2 245.0L267.5 252.4M267.5 223.1L263.1 231.2M263.1 231.2L258.9 239.5M263.1 231.2L258.2 235.9M268.6 259.6L274.5 265.1M274.5 265.1L280.0 271.0M274.5 265.1L278.8 271.1M252.3 228.2L249.0 234.9M249.0 234.9L247.1 242.2M247.1 242.2L245.2 249.4M245.2 249.4L239.1 255.9M239.1 255.9L235.5 264.0M245.8 225.1L239.8 229.7M239.8 229.7L234.1 234.8M230.0 241.2L226.5 247.1M242.5 232.0L243.6 239.7M243.6 239.7L244.3 247.4M244.3 247.4L245.6 255.1M245.6 255.1L246.9 262.8M244.3 247.4L241.6 254.7M328.2 283.7L328.2 292.9M328.2 292.9L327.0 300.0M340.1 216.8L342.1 224.3M342.1 224.3L343.9 232.0M343.9 232.0L346.4 239.4M355.7 260.9L359.3 267.4M337.9 226.6L340.2 235.5M336.2 235.3L335.8 242.7M335.8 242.7L334.3 250.0M371.5 274.4L371.0 282.0M368.8 190.0L373.9 196.1M373.9 196.1L377.9 203.0M377.9 203.0L381.5 210.1M381.5 210.1L384.7 217.4M381.5 210.1L387.2 214.7M372.3 209.5L369.8 216.8M369.8 216.8L368.0 224.3M368.0 224.3L367.2 232.0M367.2 232.0L368.0 239.6M368.0 239.6L369.3 247.2M369.8 216.8L374.1 223.4M373.8 220.3L375.9 227.0M375.9 227.0L376.8 234.1M376.8 234.1L377.2 241.2M377.2 241.2L377.9 248.3M460.4 235.9L467.1 245.1M467.1 245.1L471.1 253.8M471.1 253.8L475.0 260.0M407.7 184.3L415.1 186.7M415.1 186.7L422.6 188.8M422.6 188.8L429.2 192.7M429.2 192.7L435.1 197.9M435.1 197.9L441.2 202.6M435.1 197.9L436.0 205.0M436.0 205.0L437.3 212.2M437.3 212.2L438.5 219.3M409.9 189.4L409.5 197.0M409.5 197.0L408.8 204.6M408.8 204.6L407.6 212.2M408.8 204.6L406.2 209.0M409.5 197.0L406.5 201.6M420.9 203.4L427.9 205.9M429.5 215.3L436.6 213.7M436.6 213.7L444.0 213.8M436.4 219.1L441.3 224.4"/><path stroke-width="1.5" d="M483.3 242.5L484.5 247.3M484.5 247.3L485.0 250.0M415.0 165.2L421.8 169.3M421.8 169.3L427.9 174.4M421.8 169.3L420.3 177.4M420.3 177.4L419.2 185.6M427.9 174.4L433.7 179.2M406.8 166.1L414.6 166.3M414.6 166.3L421.7 169.4M421.7 169.4L428.1 173.7M434.0 178.7L436.4 186.0M430.2 178.5L437.8 179.3M437.8 179.3L445.5 180.3M436.9 181.6L444.3 180.6M444.3 180.6L451.7 180.1M443.9 184.8L446.1 191.6M446.1 191.6L447.3 198.6M449.9 188.9L457.8 190.2M457.8 190.2L465.4 192.6M454.6 192.5L463.5 194.5M463.5 194.5L471.5 198.8M463.6 201.2L470.7 204.5M470.7 204.5L477.6 208.1M456.8 261.1L460.0 270.1M460.0 270.1L461.2 279.2M461.2 279.2L463.0 285.0M387.0 172.2L394.3 174.2M394.3 174.2L400.9 178.2M399.9 182.5L404.1 189.5M404.1 189.5L408.5 196.4M406.5 188.4L410.2 195.1M410.2 195.1L412.3 202.4M412.3 202.4L413.7 209.9M413.7 209.9L415.6 217.3M412.7 193.2L418.6 198.6M418.6 198.6L424.6 203.9M403.4 272.3L405.0 283.3M405.0 283.3L406.6 293.1M374.6 182.1L379.9 187.1M379.9 187.1L384.7 192.4M345.9 283.0L343.4 290.4M343.4 290.4L342.2 297.9M358.0 189.9L352.0 195.7M352.0 195.7L347.0 202.4M347.0 202.4L343.7 210.0M358.0 199.7L359.5 207.1M359.5 207.1L360.6 214.6M356.3 220.7L358.6 227.8M358.6 227.8L360.7 235.0M314.8 284.5L313.0 291.3M313.0 291.3L312.1 297.4M344.3 187.8L342.5 195.0M342.5 195.0L340.7 202.3M340.7 202.3L340.4 209.7M340.4 209.7L340.2 217.2M340.7 198.2L344.8 204.7M344.8 204.7L348.0 211.6M289.4 274.9L288.0 286.4M288.0 286.4L287.0 295.0M331.2 176.0L329.7 183.7M326.2 184.2L319.2 188.0M319.2 188.0L314.1 194.2M230.0 264.8L229.3 271.4M229.3 271.4L229.0 275.0M315.4 178.3L315.8 186.1M315.8 186.1L316.5 194.0M316.5 194.0L314.3 198.7M294.8 175.0L288.8 178.7M288.8 178.7L283.9 183.7M283.9 183.7L280.2 189.7M276.8 190.3L269.9 192.2M269.9 192.2L263.5 195.7M263.5 195.7L258.4 200.8M258.4 200.8L253.0 205.6M253.0 205.6L248.1 210.9M270.5 195.8L270.3 202.9M265.4 201.2L265.4 208.6M265.4 208.6L266.5 215.8M260.3 207.1L257.5 214.1M257.5 214.1L255.0 221.2M255.0 221.2L252.3 228.2M333.1 253.1L330.7 261.7M330.7 261.7L329.6 271.7M329.6 271.7L328.2 283.7M373.2 251.6L372.5 263.7M372.5 263.7L371.5 274.4M436.4 219.1L442.1 221.4M442.1 221.4L449.0 223.4M449.0 223.4L455.4 227.7M455.4 227.7L460.4 235.9M400.5 181.3L407.7 184.3"/><path stroke-width="2" d="M478.8 226.8L480.9 231.8M480.9 231.8L482.9 237.4M482.9 237.4L483.3 242.5M399.4 162.9L407.4 163.1M407.4 163.1L415.0 165.2M446.9 237.3L451.3 244.4M451.3 244.4L454.1 251.8M454.1 251.8L456.8 261.1M398.3 243.2L400.5 252.7M400.5 252.7L401.7 261.7M401.7 261.7L403.4 272.3M349.7 258.1L347.9 267.2M347.9 267.2L347.0 275.4M347.0 275.4L345.9 283.0M320.9 257.9L318.6 267.9M318.6 267.9L316.8 275.5M316.8 275.5L314.8 284.5M296.6 239.8L294.6 249.4M294.6 249.4L291.8 262.2M291.8 262.2L289.4 274.9M234.9 245.0L233.4 251.9M233.4 251.9L231.4 258.5M231.4 258.5L230.0 264.8M314.5 170.4L315.4 178.3M337.9 226.6L336.2 235.3M336.2 235.3L334.4 244.2M334.4 244.2L333.1 253.1M373.8 220.3L373.3 230.4M373.3 230.4L374.1 239.9M374.1 239.9L373.2 251.6M420.9 203.4L424.7 209.9M424.7 209.9L429.5 215.3M429.5 215.3L436.4 219.1"/><path stroke-width="2.5" d="M473.5 214.9L477.0 220.9M477.0 220.9L478.8 226.8M434.5 217.6L438.5 223.6M438.5 223.6L443.5 230.6M443.5 230.6L446.9 237.3M390.3 216.3L393.4 224.6M393.4 224.6L395.9 234.1M395.9 234.1L398.3 243.2M354.7 230.6L352.6 239.6M352.6 239.6L351.8 249.4M351.8 249.4L349.7 258.1M329.9 228.6L327.4 237.9M327.4 237.9L323.8 248.2M323.8 248.2L320.9 257.9M303.1 222.9L299.6 230.9M299.6 230.9L296.6 239.8M242.5 232.0L238.0 238.5M238.0 238.5L234.9 245.0M314.5 162.5L314.5 170.4M345.8 199.8L342.7 208.4M342.7 208.4L340.1 216.8M340.1 216.8L337.9 226.6M371.5 200.5L372.3 209.5M372.3 209.5L373.8 220.3M389.7 172.0L400.5 181.3M400.5 181.3L409.9 189.4M409.9 189.4L415.7 197.2M415.7 197.2L420.9 203.4"/><path stroke-width="3" d="M463.6 201.2L467.8 205.2M467.8 205.2L471.1 209.5M471.1 209.5L473.5 214.9M418.6 199.4L424.5 204.4M424.5 204.4L429.1 210.9M429.1 210.9L434.5 217.6M379.4 189.6L383.2 198.4M383.2 198.4L386.7 207.2M386.7 207.2L390.3 216.3M358.0 199.7L356.7 210.1M356.7 210.1L356.3 220.7M356.3 220.7L354.7 230.6M340.7 198.2L337.2 207.7M337.2 207.7L334.5 218.1M334.5 218.1L329.9 228.6M316.3 199.0L311.8 206.2M311.8 206.2L306.9 213.8M306.9 213.8L303.1 222.9M254.7 212.1L250.4 219.1M250.4 219.1L245.8 225.1M245.8 225.1L242.5 232.0M353.0 175.3L350.8 183.3M350.8 183.3L348.5 191.9M348.5 191.9L345.8 199.8M366.8 178.9L368.8 190.0M368.8 190.0L371.5 200.5M372.4 158.3L379.5 163.6M379.5 163.6L389.7 172.0"/><path stroke-width="3.5" d="M449.9 188.9L454.6 192.5M454.6 192.5L459.5 197.4M459.5 197.4L463.6 201.2M399.9 182.5L406.5 188.4M406.5 188.4L412.7 193.2M412.7 193.2L418.6 199.4M371.0 173.1L374.6 182.1M374.6 182.1L379.4 189.6M358.2 178.2L358.0 189.9M358.0 189.9L358.0 199.7M347.1 176.6L344.3 187.8M344.3 187.8L340.7 198.2M326.2 184.2L321.1 191.1M321.1 191.1L316.3 199.0M270.5 195.8L265.4 201.2M265.4 201.2L260.3 207.1M260.3 207.1L254.7 212.1M356.4 163.3L354.0 168.3M354.0 168.3L353.0 175.3M361.5 163.2L363.4 169.4M363.4 169.4L366.8 178.9"/><path stroke-width="4" d="M430.2 178.5L436.9 181.6M436.9 181.6L443.9 184.8M443.9 184.8L449.9 188.9M380.3 166.3L387.0 172.2M387.0 172.2L394.1 178.2M394.1 178.2L399.9 182.5M363.7 160.5L366.3 165.8M366.3 165.8L371.0 173.1M358.5 161.7L357.9 168.2M357.9 168.2L358.2 178.2M350.4 161.2L348.9 167.7M348.9 167.7L347.1 176.6M337.1 169.2L331.2 176.0M331.2 176.0L326.2 184.2M288.9 179.7L282.8 185.4M282.8 185.4L276.8 190.3M276.8 190.3L270.5 195.8"/><path stroke-width="4.5" d="M406.8 166.1L415.0 170.8M415.0 170.8L422.3 173.9M422.3 173.9L430.2 178.5M369.5 158.1L374.4 161.2M374.4 161.2L380.3 166.3M345.7 157.5L341.8 162.6M341.8 162.6L337.1 169.2M308.2 167.2L301.1 171.4M301.1 171.4L294.8 175.0M294.8 175.0L288.9 179.7"/><path stroke-width="5" d="M385.2 155.4L392.1 159.3M392.1 159.3L399.4 162.9M399.4 162.9L406.8 166.1M329.0 155.2L321.6 159.2M321.6 159.2L314.5 162.5M314.5 162.5L308.2 167.2"/><path stroke-width="5.5" d="M373.8 149.6L378.8 151.8M378.8 151.8L385.2 155.4M340.1 149.9L335.7 152.6M335.7 152.6L329.0 155.2"/></g><rect x="100" y="296" width="480" height="22" fill="url(#rootfade)"/><g fill="#58aadb" stroke="#fff" stroke-opacity=".45" stroke-width="1.4"><circle cx="314.0" cy="229.0" r="4.0"/><circle cx="255.0" cy="246.0" r="3.0"/><circle cx="242.7" cy="270.5" r="4.0"/><circle cx="304.5" cy="278.0" r="4.0"/><circle cx="362.0" cy="261.0" r="4.0"/><circle cx="447.2" cy="250.4" r="4.0"/><circle cx="487.7" cy="214.0" r="4.5"/><circle cx="537.6" cy="219.6" r="4.0"/><circle cx="553.4" cy="235.0" r="2.5"/><circle cx="502.0" cy="230.4" r="2.5"/><circle cx="486.0" cy="235.8" r="2.0"/><circle cx="521.0" cy="251.0" r="2.5"/><circle cx="499.8" cy="255.7" r="4.0"/><circle cx="518.7" cy="267.3" r="2.5"/><circle cx="512.0" cy="272.7" r="3.0"/><circle cx="546.0" cy="276.4" r="3.0"/><circle cx="488.0" cy="277.6" r="2.0"/><circle cx="525.4" cy="281.8" r="2.5"/><circle cx="447.2" cy="274.0" r="3.0"/><circle cx="405.4" cy="268.7" r="3.0"/><circle cx="505.0" cy="294.0" r="3.0"/><circle cx="486.3" cy="295.7" r="3.0"/><circle cx="459.3" cy="287.6" r="2.5"/><circle cx="468.8" cy="245.8" r="2.0"/><circle cx="466.0" cy="260.6" r="2.0"/><circle cx="374.0" cy="298.0" r="3.0"/><circle cx="322.0" cy="254.0" r="2.5"/><circle cx="326.0" cy="283.0" r="2.0"/><circle cx="300.0" cy="251.0" r="2.0"/><circle cx="391.0" cy="295.0" r="2.0"/><circle cx="249.0" cy="291.0" r="2.0"/><circle cx="234.4" cy="288.0" r="2.0"/><circle cx="417.5" cy="303.8" r="3.0"/><circle cx="435.0" cy="312.0" r="3.0"/><circle cx="157.0" cy="259.5" r="4.0"/><circle cx="175.0" cy="263.5" r="2.5"/><circle cx="167.0" cy="275.0" r="2.0"/><circle cx="193.5" cy="262.5" r="2.0"/><circle cx="173.0" cy="315.0" r="2.5"/><circle cx="194.0" cy="284.0" r="2.0"/><circle cx="350.0" cy="308.0" r="3.0"/><circle cx="280.0" cy="300.0" r="2.5"/><circle cx="521.4" cy="283.5" r="2.5"/><circle cx="538.4" cy="241.7" r="2.0"/><circle cx="416.0" cy="282.0" r="2.0"/><circle cx="520.0" cy="298.0" r="2.5"/><circle cx="533.0" cy="301.0" r="2.0"/><circle cx="499.8" cy="291.6" r="2.0"/></g><rect x="100" y="407" width="480" height="85" fill="url(#water)"/><path d="M160,440 C220,452 260,470 330,478 L100,500 Z" fill="#3f86c2" opacity="0.5"/><path d="M172,436 L205,450 L238,472 L270,482 L330,487 L400,482 L480,470 L512,452" fill="none" stroke="#2f6fa8" stroke-width="12" opacity="0.55" filter="url(#bl3)"/><g mask="url(#wm)"><rect x="100" y="407" width="480" height="85" fill="#fff" filter="url(#marbD)" opacity="0.55"/><rect x="100" y="407" width="480" height="85" fill="#fff" filter="url(#marbL)" opacity="0.45"/></g><rect x="100" y="440" width="480" height="50" fill="#fff" filter="url(#marbD)" opacity="0.45"/><path d="M440,470 C470,455 495,440 520,405 L530,405 L530,480 Z" fill="#3a7cb8" opacity="0.35"/><g mask="url(#lm)"><rect x="150" y="407" width="150" height="40" fill="#fff" filter="url(#marbD2)"/><rect x="150" y="407" width="150" height="40" fill="#fff" filter="url(#marbL2)"/></g><path d="M169.5,407 L190.0,407 L188.5,434 L171.0,434 Z" fill="#cfcfcf" stroke="#858585" stroke-width="0.9"/><line x1="172.9" y1="411" x2="172.9" y2="430" stroke="#4f4f4f" stroke-width="1.5" stroke-dasharray="2.6 1"/><line x1="179.8" y1="411" x2="179.8" y2="430" stroke="#4f4f4f" stroke-width="1.5" stroke-dasharray="2.6 1"/><line x1="186.6" y1="411" x2="186.6" y2="430" stroke="#4f4f4f" stroke-width="1.5" stroke-dasharray="2.6 1"/><path d="M240.0,407 L247.5,407 L246.0,434 L241.5,434 Z" fill="#cfcfcf" stroke="#858585" stroke-width="0.9"/><line x1="243.8" y1="411" x2="243.8" y2="430" stroke="#4f4f4f" stroke-width="1.5" stroke-dasharray="2.6 1"/><path d="M304.0,407 L313.0,407 L311.5,434 L305.5,434 Z" fill="#cfcfcf" stroke="#858585" stroke-width="0.9"/><line x1="308.5" y1="411" x2="308.5" y2="430" stroke="#4f4f4f" stroke-width="1.5" stroke-dasharray="2.6 1"/><path d="M331.0,407 L352.0,407 L350.5,434 L332.5,434 Z" fill="#cfcfcf" stroke="#858585" stroke-width="0.9"/><line x1="334.5" y1="411" x2="334.5" y2="430" stroke="#4f4f4f" stroke-width="1.5" stroke-dasharray="2.6 1"/><line x1="341.5" y1="411" x2="341.5" y2="430" stroke="#4f4f4f" stroke-width="1.5" stroke-dasharray="2.6 1"/><line x1="348.5" y1="411" x2="348.5" y2="430" stroke="#4f4f4f" stroke-width="1.5" stroke-dasharray="2.6 1"/><path d="M367.0,407 L376.0,407 L374.5,434 L368.5,434 Z" fill="#cfcfcf" stroke="#858585" stroke-width="0.9"/><line x1="371.5" y1="411" x2="371.5" y2="430" stroke="#4f4f4f" stroke-width="1.5" stroke-dasharray="2.6 1"/><path d="M395.0,407 L402.0,407 L400.5,434 L396.5,434 Z" fill="#cfcfcf" stroke="#858585" stroke-width="0.9"/><line x1="398.5" y1="411" x2="398.5" y2="430" stroke="#4f4f4f" stroke-width="1.5" stroke-dasharray="2.6 1"/><path d="M422.0,407 L440.0,407 L438.5,434 L423.5,434 Z" fill="#cfcfcf" stroke="#858585" stroke-width="0.9"/><line x1="425.0" y1="411" x2="425.0" y2="430" stroke="#4f4f4f" stroke-width="1.5" stroke-dasharray="2.6 1"/><line x1="431.0" y1="411" x2="431.0" y2="430" stroke="#4f4f4f" stroke-width="1.5" stroke-dasharray="2.6 1"/><line x1="437.0" y1="411" x2="437.0" y2="430" stroke="#4f4f4f" stroke-width="1.5" stroke-dasharray="2.6 1"/><path d="M461.0,407 L467.0,407 L465.5,434 L462.5,434 Z" fill="#cfcfcf" stroke="#858585" stroke-width="0.9"/><line x1="464.0" y1="411" x2="464.0" y2="430" stroke="#4f4f4f" stroke-width="1.5" stroke-dasharray="2.6 1"/><path d="M488.0,407 L509.0,407 L507.5,434 L489.5,434 Z" fill="#cfcfcf" stroke="#858585" stroke-width="0.9"/><line x1="491.5" y1="411" x2="491.5" y2="430" stroke="#4f4f4f" stroke-width="1.5" stroke-dasharray="2.6 1"/><line x1="498.5" y1="411" x2="498.5" y2="430" stroke="#4f4f4f" stroke-width="1.5" stroke-dasharray="2.6 1"/><line x1="505.5" y1="411" x2="505.5" y2="430" stroke="#4f4f4f" stroke-width="1.5" stroke-dasharray="2.6 1"/></g><path d="M118.5,90.0 C118.2,96.3 116.8,113.8 117.0,128.0 C117.2,142.2 118.3,159.2 119.5,175.0 C120.7,190.8 122.2,207.1 124.0,223.0 C125.8,238.9 128.3,256.8 130.6,270.5 C132.8,284.2 135.2,293.4 137.5,305.0 C139.8,316.6 141.9,328.3 144.5,340.0 C147.1,351.7 150.4,365.0 153.0,375.0 C155.6,385.0 158.0,393.2 160.0,400.0 C162.0,406.8 163.3,411.3 165.0,416.0 C166.7,420.7 168.2,424.9 170.0,428.0 C171.8,431.1 173.3,432.8 176.0,434.5 C178.7,436.2 181.5,436.0 186.0,438.0 C190.5,440.0 197.2,443.0 203.0,446.5 C208.8,450.0 215.2,455.2 221.0,459.0 C226.8,462.8 232.2,466.5 238.0,469.5 C243.8,472.5 247.3,474.8 256.0,477.0 C264.7,479.2 279.0,481.8 290.0,483.0 C301.0,484.2 310.3,484.7 322.0,484.5 C333.7,484.3 347.0,483.1 360.0,482.0 C373.0,480.9 384.0,479.8 400.0,478.0 C416.0,476.2 443.0,473.1 456.0,471.0 C469.0,468.9 470.7,467.5 478.0,465.5 C485.3,463.5 494.8,461.2 500.0,459.0 C505.2,456.8 506.7,455.0 509.0,452.0 C511.3,449.0 512.0,448.5 514.0,441.0 C516.0,433.5 518.5,417.2 521.0,407.0 C523.5,396.8 525.5,390.2 529.0,380.0 C532.5,369.8 538.2,361.0 542.0,346.0 C545.8,331.0 549.0,305.2 552.0,290.0 C555.0,274.8 557.2,271.2 560.0,255.0 C562.8,238.8 566.9,213.7 569.0,193.0 C571.1,172.3 572.3,145.8 572.5,131.0 C572.7,116.2 571.1,109.0 570.0,104.0 C568.9,99.0 566.7,101.5 566.0,101.0" fill="none" stroke="#a39a94" stroke-width="1.5"/><path d="M176.0,434.5 C177.7,435.1 181.5,436.0 186.0,438.0 C190.5,440.0 197.2,443.0 203.0,446.5 C208.8,450.0 215.2,455.2 221.0,459.0 C226.8,462.8 232.2,466.5 238.0,469.5 C243.8,472.5 247.3,474.8 256.0,477.0 C264.7,479.2 279.0,481.8 290.0,483.0 C301.0,484.2 310.3,484.7 322.0,484.5 C333.7,484.3 347.0,483.1 360.0,482.0 C373.0,480.9 384.0,479.8 400.0,478.0 C416.0,476.2 443.0,473.1 456.0,471.0 C469.0,468.9 470.7,467.5 478.0,465.5 C485.3,463.5 494.8,461.2 500.0,459.0 C505.2,456.8 506.7,455.0 509.0,452.0 C511.3,449.0 513.2,442.8 514.0,441.0" fill="none" stroke="#d4d4d4" stroke-width="1.8"/><path d="M509.0,452.0 C509.8,450.2 512.0,448.5 514.0,441.0 C516.0,433.5 518.5,417.2 521.0,407.0 C523.5,396.8 525.5,390.2 529.0,380.0 C532.5,369.8 538.2,361.0 542.0,346.0 C545.8,331.0 549.0,305.2 552.0,290.0 C555.0,274.8 558.7,260.8 560.0,255.0" fill="none" stroke="#c4c0bd" stroke-width="1.8"/><path d="M566.0,101.0 C558.3,102.2 536.0,106.0 520.0,108.0 C504.0,110.0 490.0,111.8 470.0,113.0 C450.0,114.2 428.3,114.8 400.0,115.5 C371.7,116.2 328.3,117.2 300.0,117.0 C271.7,116.8 246.7,114.9 230.0,114.0 C213.3,113.1 209.0,113.1 200.0,111.5 C191.0,109.9 184.3,107.0 176.0,104.4 C167.7,101.8 158.2,98.7 150.0,96.0 C141.8,93.3 132.2,89.0 127.0,88.0 C121.8,87.0 119.9,89.7 118.5,90.0" fill="none" stroke="#cfc3b8" stroke-width="3"/><path d="M118.5,91.0 C118.9,89.8 119.6,85.8 121.0,84.0 C122.4,82.2 124.3,81.0 127.0,80.0 C129.7,79.0 124.8,78.7 137.0,78.0 C149.2,77.3 173.5,77.1 200.0,76.0 C226.5,74.9 263.3,72.5 296.0,71.5 C328.7,70.5 370.7,70.0 396.0,69.8 C421.3,69.6 436.0,69.9 448.0,70.5 C460.0,71.1 457.3,71.2 468.0,73.5 C478.7,75.8 496.3,80.4 512.0,84.5 C527.7,88.6 552.5,95.2 562.0,98.2 C571.5,101.2 567.8,101.8 569.0,102.5 L566,103.5 L520.0,108.0 C511.7,108.8 490.0,111.8 470.0,113.0 C450.0,114.2 428.3,114.8 400.0,115.5 C371.7,116.2 328.3,117.2 300.0,117.0 C271.7,116.8 246.7,114.9 230.0,114.0 C213.3,113.1 209.0,113.1 200.0,111.5 C191.0,109.9 184.3,107.0 176.0,104.4 C167.7,101.8 158.2,98.7 150.0,96.0 C141.8,93.3 132.2,89.0 127.0,88.0 C121.8,87.0 119.9,89.7 118.5,90.0 Z" fill="#26272b"/><g clip-path="url(#rimclip)"><rect x="100" y="55" width="490" height="75" fill="#fff" filter="url(#speck)"/></g><path d="M566.0,101.0 C558.3,102.2 536.0,106.0 520.0,108.0 C504.0,110.0 490.0,111.8 470.0,113.0 C450.0,114.2 428.3,114.8 400.0,115.5 C371.7,116.2 328.3,117.2 300.0,117.0 C271.7,116.8 246.7,114.9 230.0,114.0 C213.3,113.1 209.0,113.1 200.0,111.5 C191.0,109.9 184.3,107.0 176.0,104.4 C167.7,101.8 158.2,98.7 150.0,96.0 C141.8,93.3 132.2,89.0 127.0,88.0 C121.8,87.0 119.9,89.7 118.5,90.0" fill="none" stroke="#cdc2b8" stroke-width="2.4" transform="translate(0,1.2)"/><path d="M196,103 C220,100.5 270,97.5 303,96 C306,96 306,97.5 305,99.5 L297,112 C296.5,113 296,113.5 294,113.5 L203,112 C193,111 189,106 196,103 Z" fill="#3f3f44"/><path d="M196,103 C220,100.5 270,97.5 303,96 C306,96 306,97.5 305,99.5 L303,103 C270,104 230,106 198,108.5 C191,108 191,104.5 196,103 Z" fill="#5a5a60"/><path d="M274,11.5 A10.75,10.75 0 0 1 295.5,11.5 L295.5,85 L293.5,97 L276,97 L274,85 Z" fill="url(#tube2)"/><path d="M275,87 L293,87 L292,98 L276,98 Z" fill="url(#tube3)"/><rect x="274" y="36" width="21.5" height="3" fill="#b8303e"/><rect x="274" y="82" width="21.5" height="4.5" fill="#b8303e"/><text x="288" y="35" font-size="6.5" fill="#b8303e" font-family="Liberation Sans, sans-serif" font-weight="bold">m</text><rect x="195.5" y="119" width="31.5" height="185" fill="url(#shaft)"/><rect x="195.5" y="304" width="31.5" height="71" fill="url(#shaft)" opacity="0.96"/><path d="M193.5,372.5 L228.5,372.5 L225.5,398 L196.5,398 Z" fill="#3c3a3a"/><rect x="258" y="128" width="26" height="324" fill="url(#shaft)" opacity="0.95"/><rect x="258" y="128" width="26" height="10.5" fill="#575453"/><rect x="270.3" y="138" width="1.7" height="314" fill="#c23a40"/><path d="M254.5,451.5 L288,451.5 L286,475 L256.5,475 Z" fill="#3f3a3a"/><rect x="67.8" y="2.4" width="131.4" height="50.0" rx="6" fill="#fff"/><rect x="69.5" y="4.1" width="128.0" height="46.6" rx="5" fill="#558237" stroke="#46742c" stroke-width="1"/><rect x="0.0" y="392.6" width="135.2" height="49.6" rx="6" fill="#fff"/><rect x="1.7" y="394.3" width="131.8" height="46.2" rx="5" fill="#558237" stroke="#46742c" stroke-width="1"/><rect x="542.8" y="288.1" width="135.7" height="46.7" rx="6" fill="#fff"/><rect x="544.5" y="289.8" width="132.3" height="43.3" rx="5" fill="#558237" stroke="#46742c" stroke-width="1"/><rect x="492.8" y="524.0" width="177.7" height="55.2" rx="6" fill="#fff"/><rect x="494.5" y="525.7" width="174.3" height="51.8" rx="5" fill="#558237" stroke="#46742c" stroke-width="1"/><g fill="#ffffff" stroke="#ffffff" stroke-width="0.2" font-family="Liberation Sans, sans-serif" font-weight="bold"><text x="82.6" y="24.9" font-size="16.0" textLength="105.5" lengthAdjust="spacingAndGlyphs">WATER LEVEL</text><text x="94.9" y="44.1" font-size="16.0" textLength="85.2" lengthAdjust="spacingAndGlyphs">INDICATOR</text><text x="17.4" y="415.5" font-size="16.5" textLength="105.2" lengthAdjust="spacingAndGlyphs">WATER LEVEL</text><text x="44.9" y="434.6" font-size="16.5" textLength="50.6" lengthAdjust="spacingAndGlyphs">SHAFT</text><text x="565.3" y="309.0" font-size="16.5" textLength="88.1" lengthAdjust="spacingAndGlyphs">SUFFICIENT</text><text x="550.3" y="327.6" font-size="16.5" textLength="119.1" lengthAdjust="spacingAndGlyphs">WATER SUPPLY</text><text x="504.0" y="550.7" font-size="21.2" textLength="155.1" lengthAdjust="spacingAndGlyphs">SELF WATERING</text><text x="504.3" y="569.3" font-size="17.0" textLength="156.3" lengthAdjust="spacingAndGlyphs">NO MORE ROOT ROT</text></g><path d="M134.5,51 L134.5,72.8 L279,72.8" fill="none" stroke="#3a5a2a" stroke-width="1.9"/><circle cx="279" cy="72.8" r="4.5" fill="#4f8a38" stroke="#2f5a20" stroke-width="1"/><path d="M100,393.5 L100,352.5 L211,352.5" fill="none" stroke="#3a5a2a" stroke-width="1.9"/><circle cx="211.4" cy="352.5" r="4.5" fill="#4f8a38" stroke="#2f5a20" stroke-width="1"/><path d="M601.5,333.5 L601.5,366 L404,366" fill="none" stroke="#3a5a2a" stroke-width="1.9"/><circle cx="404" cy="366" r="4.5" fill="#4f8a38" stroke="#2f5a20" stroke-width="1"/></svg>
</body></html>
